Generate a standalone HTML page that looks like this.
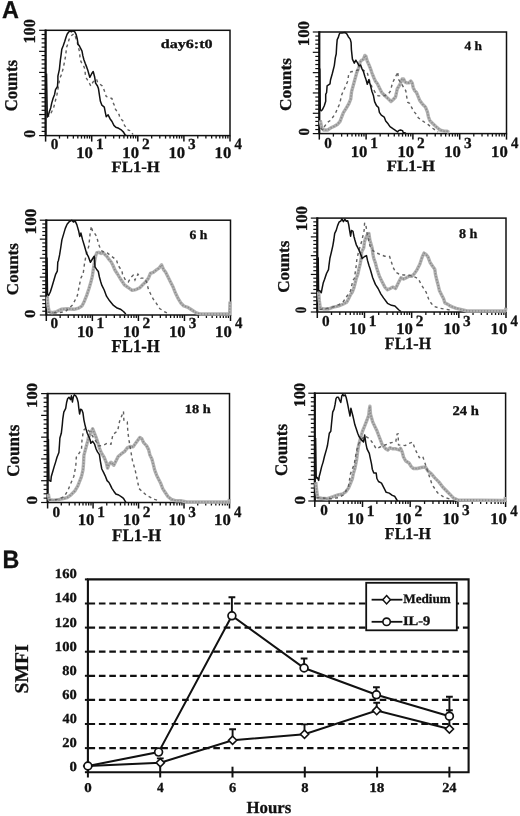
<!DOCTYPE html>
<html><head><meta charset="utf-8"><style>
html,body{margin:0;padding:0;background:#fff;}
svg{display:block;filter:grayscale(1);}
text{text-rendering:geometricPrecision;}
</style></head><body>
<svg width="520" height="816" viewBox="0 0 520 816">
<rect width="520" height="816" fill="#fff"/>
<rect x="45.6" y="30.3" width="184.4" height="105.3" fill="none" stroke="#111" stroke-width="1.5"/>
<line x1="45.6" y1="29.6" x2="45.6" y2="135.6" stroke="#111" stroke-width="2.1"/>
<line x1="39.1" y1="135.6" x2="45.6" y2="135.6" stroke="#111" stroke-width="1.2"/>
<line x1="41.6" y1="131.388" x2="45.6" y2="131.388" stroke="#111" stroke-width="1.2"/>
<line x1="41.6" y1="127.176" x2="45.6" y2="127.176" stroke="#111" stroke-width="1.2"/>
<line x1="41.6" y1="122.964" x2="45.6" y2="122.964" stroke="#111" stroke-width="1.2"/>
<line x1="41.6" y1="118.752" x2="45.6" y2="118.752" stroke="#111" stroke-width="1.2"/>
<line x1="39.1" y1="114.54" x2="45.6" y2="114.54" stroke="#111" stroke-width="1.2"/>
<line x1="41.6" y1="110.328" x2="45.6" y2="110.328" stroke="#111" stroke-width="1.2"/>
<line x1="41.6" y1="106.116" x2="45.6" y2="106.116" stroke="#111" stroke-width="1.2"/>
<line x1="41.6" y1="101.904" x2="45.6" y2="101.904" stroke="#111" stroke-width="1.2"/>
<line x1="41.6" y1="97.692" x2="45.6" y2="97.692" stroke="#111" stroke-width="1.2"/>
<line x1="39.1" y1="93.48" x2="45.6" y2="93.48" stroke="#111" stroke-width="1.2"/>
<line x1="41.6" y1="89.268" x2="45.6" y2="89.268" stroke="#111" stroke-width="1.2"/>
<line x1="41.6" y1="85.056" x2="45.6" y2="85.056" stroke="#111" stroke-width="1.2"/>
<line x1="41.6" y1="80.844" x2="45.6" y2="80.844" stroke="#111" stroke-width="1.2"/>
<line x1="41.6" y1="76.632" x2="45.6" y2="76.632" stroke="#111" stroke-width="1.2"/>
<line x1="39.1" y1="72.42" x2="45.6" y2="72.42" stroke="#111" stroke-width="1.2"/>
<line x1="41.6" y1="68.208" x2="45.6" y2="68.208" stroke="#111" stroke-width="1.2"/>
<line x1="41.6" y1="63.996" x2="45.6" y2="63.996" stroke="#111" stroke-width="1.2"/>
<line x1="41.6" y1="59.784" x2="45.6" y2="59.784" stroke="#111" stroke-width="1.2"/>
<line x1="41.6" y1="55.572" x2="45.6" y2="55.572" stroke="#111" stroke-width="1.2"/>
<line x1="39.1" y1="51.36" x2="45.6" y2="51.36" stroke="#111" stroke-width="1.2"/>
<line x1="41.6" y1="47.148" x2="45.6" y2="47.148" stroke="#111" stroke-width="1.2"/>
<line x1="41.6" y1="42.936" x2="45.6" y2="42.936" stroke="#111" stroke-width="1.2"/>
<line x1="41.6" y1="38.724" x2="45.6" y2="38.724" stroke="#111" stroke-width="1.2"/>
<line x1="41.6" y1="34.512" x2="45.6" y2="34.512" stroke="#111" stroke-width="1.2"/>
<line x1="39.1" y1="30.3" x2="45.6" y2="30.3" stroke="#111" stroke-width="1.2"/>
<line x1="59.477" y1="135.6" x2="59.477" y2="138.6" stroke="#111" stroke-width="1.3"/>
<line x1="67.595" y1="135.6" x2="67.595" y2="138.6" stroke="#111" stroke-width="1.3"/>
<line x1="73.355" y1="135.6" x2="73.355" y2="138.6" stroke="#111" stroke-width="1.3"/>
<line x1="77.823" y1="135.6" x2="77.823" y2="138.6" stroke="#111" stroke-width="1.3"/>
<line x1="81.473" y1="135.6" x2="81.473" y2="138.6" stroke="#111" stroke-width="1.3"/>
<line x1="84.559" y1="135.6" x2="84.559" y2="138.6" stroke="#111" stroke-width="1.3"/>
<line x1="87.232" y1="135.6" x2="87.232" y2="138.6" stroke="#111" stroke-width="1.3"/>
<line x1="89.591" y1="135.6" x2="89.591" y2="138.6" stroke="#111" stroke-width="1.3"/>
<line x1="105.577" y1="135.6" x2="105.577" y2="138.6" stroke="#111" stroke-width="1.3"/>
<line x1="113.695" y1="135.6" x2="113.695" y2="138.6" stroke="#111" stroke-width="1.3"/>
<line x1="119.455" y1="135.6" x2="119.455" y2="138.6" stroke="#111" stroke-width="1.3"/>
<line x1="123.923" y1="135.6" x2="123.923" y2="138.6" stroke="#111" stroke-width="1.3"/>
<line x1="127.573" y1="135.6" x2="127.573" y2="138.6" stroke="#111" stroke-width="1.3"/>
<line x1="130.659" y1="135.6" x2="130.659" y2="138.6" stroke="#111" stroke-width="1.3"/>
<line x1="133.332" y1="135.6" x2="133.332" y2="138.6" stroke="#111" stroke-width="1.3"/>
<line x1="135.691" y1="135.6" x2="135.691" y2="138.6" stroke="#111" stroke-width="1.3"/>
<line x1="151.677" y1="135.6" x2="151.677" y2="138.6" stroke="#111" stroke-width="1.3"/>
<line x1="159.795" y1="135.6" x2="159.795" y2="138.6" stroke="#111" stroke-width="1.3"/>
<line x1="165.555" y1="135.6" x2="165.555" y2="138.6" stroke="#111" stroke-width="1.3"/>
<line x1="170.023" y1="135.6" x2="170.023" y2="138.6" stroke="#111" stroke-width="1.3"/>
<line x1="173.673" y1="135.6" x2="173.673" y2="138.6" stroke="#111" stroke-width="1.3"/>
<line x1="176.759" y1="135.6" x2="176.759" y2="138.6" stroke="#111" stroke-width="1.3"/>
<line x1="179.432" y1="135.6" x2="179.432" y2="138.6" stroke="#111" stroke-width="1.3"/>
<line x1="181.791" y1="135.6" x2="181.791" y2="138.6" stroke="#111" stroke-width="1.3"/>
<line x1="197.777" y1="135.6" x2="197.777" y2="138.6" stroke="#111" stroke-width="1.3"/>
<line x1="205.895" y1="135.6" x2="205.895" y2="138.6" stroke="#111" stroke-width="1.3"/>
<line x1="211.655" y1="135.6" x2="211.655" y2="138.6" stroke="#111" stroke-width="1.3"/>
<line x1="216.123" y1="135.6" x2="216.123" y2="138.6" stroke="#111" stroke-width="1.3"/>
<line x1="219.773" y1="135.6" x2="219.773" y2="138.6" stroke="#111" stroke-width="1.3"/>
<line x1="222.859" y1="135.6" x2="222.859" y2="138.6" stroke="#111" stroke-width="1.3"/>
<line x1="225.532" y1="135.6" x2="225.532" y2="138.6" stroke="#111" stroke-width="1.3"/>
<line x1="227.891" y1="135.6" x2="227.891" y2="138.6" stroke="#111" stroke-width="1.3"/>
<line x1="45.6" y1="135.6" x2="45.6" y2="141.6" stroke="#111" stroke-width="1.5"/>
<line x1="91.7" y1="135.6" x2="91.7" y2="141.6" stroke="#111" stroke-width="1.5"/>
<line x1="137.8" y1="135.6" x2="137.8" y2="141.6" stroke="#111" stroke-width="1.5"/>
<line x1="183.9" y1="135.6" x2="183.9" y2="141.6" stroke="#111" stroke-width="1.5"/>
<line x1="230" y1="135.6" x2="230" y2="141.6" stroke="#111" stroke-width="1.5"/>
<polyline points="46.5,117 49.8,115.6 53.6,107.9 54.6,104 57,94.4 59.9,78 61.3,75.1 63.2,68.4 64.7,60.7 65.6,55.9 66.6,47.2 68,43.4 69,39.5 70.4,37.1 71.9,35.2 73.8,33.8 74.8,35.2 75.7,37.6 77.2,42.4 78.6,48.2 79.6,52 80.1,58.8 81,61.7 82.5,64.5 83.9,66.5 84.9,69.3 85.3,74.2 86.3,78 89.8,84 90.8,86 93,82 96.6,79.2 97.5,82.1 102.3,86 103.3,87.9 105.7,94.6 106.2,96.5 112,98.5 112.4,101.3 114.8,106.2 115.3,109 119.2,114.8 119.7,117.7 123.5,121.5 124.5,125.4 128.3,130.2 130.7,130.7 133,134.5" fill="none" stroke="#606060" stroke-width="1.4" stroke-dasharray="3 3.2"/>
<polyline points="46.5,73.5 47.3,117 48.3,115.6 49.3,111.7 50.7,107.9 51.7,103.1 53.1,98.3 54.6,94.4 55.5,89.6 57.5,86.5 57.9,80 57.9,76.1 59.4,69.3 60.3,60.7 61.1,54.9 61.8,49.2 63.2,45.8 64.7,41.5 66.1,37.1 67.1,34.3 68.5,32.3 70,30.9 71.4,31.8 72.8,30.9 74.8,31.8 76.2,34.7 77.2,38.6 78.1,44.3 79.6,46.3 80.5,48.2 82,51.1 82.9,55.9 83.9,59.7 85.3,63.6 86.8,67.4 87.9,70.6 89.8,77.3 91.8,73.5 93.2,71.5 94.7,77.3 95.6,83.1 97.5,86 98.5,88.8 99.5,95.6 100.4,101.3 101.9,105.2 104.3,107.1 105.2,111.9 106.2,116.7 108.1,114.8 110,118.7 112,121.5 113.9,125.4 115.8,127.3 118.7,128.3 121.6,130.2 123.5,132.1 124.9,134.5 126,135.3" fill="none" stroke="#111" stroke-width="1.5" stroke-linejoin="round"/>
<text transform="matrix(0,-0.978,1,0,35.232,43.616)" style="font-family:'Liberation Serif', serif;font-weight:bold;font-size:16.815px" fill="#111" stroke="#111" stroke-width="0.3">100</text>
<text transform="matrix(0,-0.937,1,0,35.235,137.719)" style="font-family:'Liberation Serif', serif;font-weight:bold;font-size:16.519px" fill="#111" stroke="#111" stroke-width="0.3">0</text>
<text transform="matrix(0,-0.937,1,0,17.42,111.343)" style="font-family:'Liberation Serif', serif;font-weight:bold;font-size:17.985px" fill="#111" stroke="#111" stroke-width="0.3">Counts</text>
<text transform="matrix(1.008,0,0,1,50.84,149.049)" style="font-family:'Liberation Serif', serif;font-weight:bold;font-size:15.111px" fill="#111" stroke="#111" stroke-width="0.3">0</text>
<text transform="matrix(1.034,0,0,1,76.264,158.139)" style="font-family:'Liberation Serif', serif;font-weight:bold;font-size:16.148px" fill="#111" stroke="#111" stroke-width="0.3">10</text>
<text transform="matrix(0.987,0,0,1,95.968,149.3)" style="font-family:'Liberation Serif', serif;font-weight:bold;font-size:15.606px" fill="#111" stroke="#111" stroke-width="0.3">1</text>
<text transform="matrix(1.034,0,0,1,122.364,158.139)" style="font-family:'Liberation Serif', serif;font-weight:bold;font-size:16.148px" fill="#111" stroke="#111" stroke-width="0.3">10</text>
<text transform="matrix(0.988,0,0,1,141.983,149.3)" style="font-family:'Liberation Serif', serif;font-weight:bold;font-size:15.606px" fill="#111" stroke="#111" stroke-width="0.3">2</text>
<text transform="matrix(1.034,0,0,1,168.464,158.139)" style="font-family:'Liberation Serif', serif;font-weight:bold;font-size:16.148px" fill="#111" stroke="#111" stroke-width="0.3">10</text>
<text transform="matrix(0.995,0,0,1,188.088,149.146)" style="font-family:'Liberation Serif', serif;font-weight:bold;font-size:15.373px" fill="#111" stroke="#111" stroke-width="0.3">3</text>
<text transform="matrix(1.034,0,0,1,214.564,158.139)" style="font-family:'Liberation Serif', serif;font-weight:bold;font-size:16.148px" fill="#111" stroke="#111" stroke-width="0.3">10</text>
<text transform="matrix(0.951,0,0,1,234.577,149.3)" style="font-family:'Liberation Serif', serif;font-weight:bold;font-size:15.606px" fill="#111" stroke="#111" stroke-width="0.3">4</text>
<text transform="matrix(1.06,0,0,1,111.549,172.2)" style="font-family:'Liberation Serif', serif;font-weight:bold;font-size:15.758px" fill="#111" stroke="#111" stroke-width="0.3">FL1-H</text>
<text transform="matrix(1.284,0,0,1,160.757,48.407)" style="font-family:'Liberation Serif', serif;font-weight:bold;font-size:12.527px" fill="#111" stroke="#111" stroke-width="0.3">day6:t0</text>
<rect x="319.3" y="32" width="187.2" height="101.6" fill="none" stroke="#111" stroke-width="1.5"/>
<line x1="319.3" y1="31.3" x2="319.3" y2="133.6" stroke="#111" stroke-width="2.1"/>
<line x1="312.8" y1="133.6" x2="319.3" y2="133.6" stroke="#111" stroke-width="1.2"/>
<line x1="315.3" y1="129.536" x2="319.3" y2="129.536" stroke="#111" stroke-width="1.2"/>
<line x1="315.3" y1="125.472" x2="319.3" y2="125.472" stroke="#111" stroke-width="1.2"/>
<line x1="315.3" y1="121.408" x2="319.3" y2="121.408" stroke="#111" stroke-width="1.2"/>
<line x1="315.3" y1="117.344" x2="319.3" y2="117.344" stroke="#111" stroke-width="1.2"/>
<line x1="312.8" y1="113.28" x2="319.3" y2="113.28" stroke="#111" stroke-width="1.2"/>
<line x1="315.3" y1="109.216" x2="319.3" y2="109.216" stroke="#111" stroke-width="1.2"/>
<line x1="315.3" y1="105.152" x2="319.3" y2="105.152" stroke="#111" stroke-width="1.2"/>
<line x1="315.3" y1="101.088" x2="319.3" y2="101.088" stroke="#111" stroke-width="1.2"/>
<line x1="315.3" y1="97.024" x2="319.3" y2="97.024" stroke="#111" stroke-width="1.2"/>
<line x1="312.8" y1="92.96" x2="319.3" y2="92.96" stroke="#111" stroke-width="1.2"/>
<line x1="315.3" y1="88.896" x2="319.3" y2="88.896" stroke="#111" stroke-width="1.2"/>
<line x1="315.3" y1="84.832" x2="319.3" y2="84.832" stroke="#111" stroke-width="1.2"/>
<line x1="315.3" y1="80.768" x2="319.3" y2="80.768" stroke="#111" stroke-width="1.2"/>
<line x1="315.3" y1="76.704" x2="319.3" y2="76.704" stroke="#111" stroke-width="1.2"/>
<line x1="312.8" y1="72.64" x2="319.3" y2="72.64" stroke="#111" stroke-width="1.2"/>
<line x1="315.3" y1="68.576" x2="319.3" y2="68.576" stroke="#111" stroke-width="1.2"/>
<line x1="315.3" y1="64.512" x2="319.3" y2="64.512" stroke="#111" stroke-width="1.2"/>
<line x1="315.3" y1="60.448" x2="319.3" y2="60.448" stroke="#111" stroke-width="1.2"/>
<line x1="315.3" y1="56.384" x2="319.3" y2="56.384" stroke="#111" stroke-width="1.2"/>
<line x1="312.8" y1="52.32" x2="319.3" y2="52.32" stroke="#111" stroke-width="1.2"/>
<line x1="315.3" y1="48.256" x2="319.3" y2="48.256" stroke="#111" stroke-width="1.2"/>
<line x1="315.3" y1="44.192" x2="319.3" y2="44.192" stroke="#111" stroke-width="1.2"/>
<line x1="315.3" y1="40.128" x2="319.3" y2="40.128" stroke="#111" stroke-width="1.2"/>
<line x1="315.3" y1="36.064" x2="319.3" y2="36.064" stroke="#111" stroke-width="1.2"/>
<line x1="312.8" y1="32" x2="319.3" y2="32" stroke="#111" stroke-width="1.2"/>
<line x1="333.388" y1="133.6" x2="333.388" y2="136.6" stroke="#111" stroke-width="1.3"/>
<line x1="341.629" y1="133.6" x2="341.629" y2="136.6" stroke="#111" stroke-width="1.3"/>
<line x1="347.476" y1="133.6" x2="347.476" y2="136.6" stroke="#111" stroke-width="1.3"/>
<line x1="352.012" y1="133.6" x2="352.012" y2="136.6" stroke="#111" stroke-width="1.3"/>
<line x1="355.717" y1="133.6" x2="355.717" y2="136.6" stroke="#111" stroke-width="1.3"/>
<line x1="358.851" y1="133.6" x2="358.851" y2="136.6" stroke="#111" stroke-width="1.3"/>
<line x1="361.565" y1="133.6" x2="361.565" y2="136.6" stroke="#111" stroke-width="1.3"/>
<line x1="363.959" y1="133.6" x2="363.959" y2="136.6" stroke="#111" stroke-width="1.3"/>
<line x1="380.188" y1="133.6" x2="380.188" y2="136.6" stroke="#111" stroke-width="1.3"/>
<line x1="388.429" y1="133.6" x2="388.429" y2="136.6" stroke="#111" stroke-width="1.3"/>
<line x1="394.276" y1="133.6" x2="394.276" y2="136.6" stroke="#111" stroke-width="1.3"/>
<line x1="398.812" y1="133.6" x2="398.812" y2="136.6" stroke="#111" stroke-width="1.3"/>
<line x1="402.517" y1="133.6" x2="402.517" y2="136.6" stroke="#111" stroke-width="1.3"/>
<line x1="405.651" y1="133.6" x2="405.651" y2="136.6" stroke="#111" stroke-width="1.3"/>
<line x1="408.365" y1="133.6" x2="408.365" y2="136.6" stroke="#111" stroke-width="1.3"/>
<line x1="410.759" y1="133.6" x2="410.759" y2="136.6" stroke="#111" stroke-width="1.3"/>
<line x1="426.988" y1="133.6" x2="426.988" y2="136.6" stroke="#111" stroke-width="1.3"/>
<line x1="435.229" y1="133.6" x2="435.229" y2="136.6" stroke="#111" stroke-width="1.3"/>
<line x1="441.076" y1="133.6" x2="441.076" y2="136.6" stroke="#111" stroke-width="1.3"/>
<line x1="445.612" y1="133.6" x2="445.612" y2="136.6" stroke="#111" stroke-width="1.3"/>
<line x1="449.317" y1="133.6" x2="449.317" y2="136.6" stroke="#111" stroke-width="1.3"/>
<line x1="452.451" y1="133.6" x2="452.451" y2="136.6" stroke="#111" stroke-width="1.3"/>
<line x1="455.165" y1="133.6" x2="455.165" y2="136.6" stroke="#111" stroke-width="1.3"/>
<line x1="457.559" y1="133.6" x2="457.559" y2="136.6" stroke="#111" stroke-width="1.3"/>
<line x1="473.788" y1="133.6" x2="473.788" y2="136.6" stroke="#111" stroke-width="1.3"/>
<line x1="482.029" y1="133.6" x2="482.029" y2="136.6" stroke="#111" stroke-width="1.3"/>
<line x1="487.876" y1="133.6" x2="487.876" y2="136.6" stroke="#111" stroke-width="1.3"/>
<line x1="492.412" y1="133.6" x2="492.412" y2="136.6" stroke="#111" stroke-width="1.3"/>
<line x1="496.117" y1="133.6" x2="496.117" y2="136.6" stroke="#111" stroke-width="1.3"/>
<line x1="499.251" y1="133.6" x2="499.251" y2="136.6" stroke="#111" stroke-width="1.3"/>
<line x1="501.965" y1="133.6" x2="501.965" y2="136.6" stroke="#111" stroke-width="1.3"/>
<line x1="504.359" y1="133.6" x2="504.359" y2="136.6" stroke="#111" stroke-width="1.3"/>
<line x1="319.3" y1="133.6" x2="319.3" y2="139.6" stroke="#111" stroke-width="1.5"/>
<line x1="366.1" y1="133.6" x2="366.1" y2="139.6" stroke="#111" stroke-width="1.5"/>
<line x1="412.9" y1="133.6" x2="412.9" y2="139.6" stroke="#111" stroke-width="1.5"/>
<line x1="459.7" y1="133.6" x2="459.7" y2="139.6" stroke="#111" stroke-width="1.5"/>
<line x1="506.5" y1="133.6" x2="506.5" y2="139.6" stroke="#111" stroke-width="1.5"/>
<polyline points="320.3,120.4 321.8,128.1 323.7,130 327.6,130 330.5,128.1 334.3,126.2 337.7,124.2 340.1,121.3 341.5,117.5 343.4,112.7 345.8,108.8 348.7,104 350.7,99.2 351.6,91.5 353.5,84.5 355,79 356.7,72.7 358.7,67.9 360.1,62.1 361.5,60.2 363.5,59.2 364.9,55.4 365.9,56.3 367.3,61.2 368.8,64.5 370.2,67.9 371.9,72.8 374.2,78.5 375.5,81.3 377.3,83.5 379.6,88.2 381.9,92.8 385,95.8 388.5,99 391,101.5 392.5,100.2 395.4,97.3 396.3,93.5 397.3,88.7 399.2,85.8 400.7,82.9 402.1,79 403.6,79 405,81.9 406.9,82.9 408.8,82.9 410.8,81 412.2,82.9 413.2,87.7 414.6,90.6 416.5,92.5 417.8,95.6 419.7,100.4 422.6,104.2 425.5,107.1 427.4,111.9 428.4,116.7 429.8,120.6 431.7,122.5 433.7,124.4 435.6,126.3 438,128.3 440.4,130.2 444.2,131.2 447.1,131.2 449,132.5" fill="none" stroke="#b2b2b2" stroke-width="3.4" stroke-linejoin="round"/>
<polyline points="320.3,120.4 321.8,128.1 323.7,130 327.6,130 330.5,128.1 334.3,126.2 337.7,124.2 340.1,121.3 341.5,117.5 343.4,112.7 345.8,108.8 348.7,104 350.7,99.2 351.6,91.5 353.5,84.5 355,79 356.7,72.7 358.7,67.9 360.1,62.1 361.5,60.2 363.5,59.2 364.9,55.4 365.9,56.3 367.3,61.2 368.8,64.5 370.2,67.9 371.9,72.8 374.2,78.5 375.5,81.3 377.3,83.5 379.6,88.2 381.9,92.8 385,95.8 388.5,99 391,101.5 392.5,100.2 395.4,97.3 396.3,93.5 397.3,88.7 399.2,85.8 400.7,82.9 402.1,79 403.6,79 405,81.9 406.9,82.9 408.8,82.9 410.8,81 412.2,82.9 413.2,87.7 414.6,90.6 416.5,92.5 417.8,95.6 419.7,100.4 422.6,104.2 425.5,107.1 427.4,111.9 428.4,116.7 429.8,120.6 431.7,122.5 433.7,124.4 435.6,126.3 438,128.3 440.4,130.2 444.2,131.2 447.1,131.2 449,132.5" fill="none" stroke="#8a8a8a" stroke-width="1.6" stroke-dasharray="1.3 1.7" stroke-linejoin="round"/>
<polyline points="320.5,128 322.8,130 324.7,126.2 327.6,122.3 330.5,120.4 335.3,113.7 339.1,105 340.1,102.1 341.5,95.4 343,91.5 344.9,87.7 347.8,81 348.7,74 351,71.7 353.5,71.5 358,70 363,70 367.3,72.8 369.2,79.7 372,87 375.8,93.5 378.1,95.8 383,96 388.1,94.3 390.4,91.2 392.5,82.9 396.8,74.2 397.8,71.8 398.3,79 401,83 404,88 405.8,90.8 406.3,94.6 407.7,102.3 409.6,103.3 411.5,107.1 413.5,111 415.9,113.8 418.3,117.7 422.1,120.6 427.9,124.4 432.7,128.3 435.6,130.2 438,132" fill="none" stroke="#606060" stroke-width="1.4" stroke-dasharray="3 3.2"/>
<polyline points="319.8,68.5 320.3,110 321.3,110.8 322.3,109.8 324.2,106 325.7,101.2 325.7,94.4 326.6,92.5 327.1,85.8 330,83.8 330.5,80 332.4,73.3 334.3,65.6 335.3,57.9 336.2,54 336.7,45.4 337.2,39.6 338.2,37.7 339.1,34.8 339.6,33.4 340.6,32.9 342,32.9 344.9,32.4 346.8,33.8 348.3,36.7 350.2,39.1 351.1,42.5 351.4,49.6 352.4,59.2 354.3,63.1 355.8,60.2 357.7,63.1 359.1,66 360.6,65 362,68.8 363.5,71.7 364.9,76.5 365.8,78.9 367.3,84.3 368.8,79.7 370.4,85.1 371.9,91.2 373.5,95.8 374.6,101.7 376.5,105.6 378.5,107.5 379.4,112.3 381.3,115.2 384.2,117.1 385.7,121 388.1,123.8 390,126.7 392.9,128.7 395.8,130.6 397.7,132 398.5,130.6 400.5,130 402.5,130.6 403.2,132.6 406,133.2" fill="none" stroke="#111" stroke-width="1.5" stroke-linejoin="round"/>
<text transform="matrix(0,-1.018,1,0,308.836,46.239)" style="font-family:'Liberation Serif', serif;font-weight:bold;font-size:16.444px" fill="#111" stroke="#111" stroke-width="0.3">100</text>
<text transform="matrix(0,-0.967,1,0,308.847,135.39)" style="font-family:'Liberation Serif', serif;font-weight:bold;font-size:15.259px" fill="#111" stroke="#111" stroke-width="0.3">0</text>
<text transform="matrix(0,-1.045,1,0,291.334,110.966)" style="font-family:'Liberation Serif', serif;font-weight:bold;font-size:16.567px" fill="#111" stroke="#111" stroke-width="0.3">Counts</text>
<text transform="matrix(1.008,0,0,1,324.29,147.649)" style="font-family:'Liberation Serif', serif;font-weight:bold;font-size:15.111px" fill="#111" stroke="#111" stroke-width="0.3">0</text>
<text transform="matrix(1.034,0,0,1,350.664,157.039)" style="font-family:'Liberation Serif', serif;font-weight:bold;font-size:16.148px" fill="#111" stroke="#111" stroke-width="0.3">10</text>
<text transform="matrix(0.987,0,0,1,370.368,148.4)" style="font-family:'Liberation Serif', serif;font-weight:bold;font-size:15.606px" fill="#111" stroke="#111" stroke-width="0.3">1</text>
<text transform="matrix(1.034,0,0,1,397.464,157.039)" style="font-family:'Liberation Serif', serif;font-weight:bold;font-size:16.148px" fill="#111" stroke="#111" stroke-width="0.3">10</text>
<text transform="matrix(0.988,0,0,1,417.083,148.4)" style="font-family:'Liberation Serif', serif;font-weight:bold;font-size:15.606px" fill="#111" stroke="#111" stroke-width="0.3">2</text>
<text transform="matrix(1.034,0,0,1,444.264,157.039)" style="font-family:'Liberation Serif', serif;font-weight:bold;font-size:16.148px" fill="#111" stroke="#111" stroke-width="0.3">10</text>
<text transform="matrix(0.995,0,0,1,463.888,148.246)" style="font-family:'Liberation Serif', serif;font-weight:bold;font-size:15.373px" fill="#111" stroke="#111" stroke-width="0.3">3</text>
<text transform="matrix(1.034,0,0,1,491.064,157.039)" style="font-family:'Liberation Serif', serif;font-weight:bold;font-size:16.148px" fill="#111" stroke="#111" stroke-width="0.3">10</text>
<text transform="matrix(0.951,0,0,1,511.077,148.4)" style="font-family:'Liberation Serif', serif;font-weight:bold;font-size:15.606px" fill="#111" stroke="#111" stroke-width="0.3">4</text>
<text transform="matrix(1.06,0,0,1,386.849,171.2)" style="font-family:'Liberation Serif', serif;font-weight:bold;font-size:15.758px" fill="#111" stroke="#111" stroke-width="0.3">FL1-H</text>
<text transform="matrix(1.071,0,0,1,464.399,50.4)" style="font-family:'Liberation Serif', serif;font-weight:bold;font-size:12.518px" fill="#111" stroke="#111" stroke-width="0.3">4 h</text>
<rect x="46.3" y="220.2" width="184.2" height="94.8" fill="none" stroke="#111" stroke-width="1.5"/>
<line x1="46.3" y1="219.5" x2="46.3" y2="315" stroke="#111" stroke-width="2.1"/>
<line x1="39.8" y1="315" x2="46.3" y2="315" stroke="#111" stroke-width="1.2"/>
<line x1="42.3" y1="311.208" x2="46.3" y2="311.208" stroke="#111" stroke-width="1.2"/>
<line x1="42.3" y1="307.416" x2="46.3" y2="307.416" stroke="#111" stroke-width="1.2"/>
<line x1="42.3" y1="303.624" x2="46.3" y2="303.624" stroke="#111" stroke-width="1.2"/>
<line x1="42.3" y1="299.832" x2="46.3" y2="299.832" stroke="#111" stroke-width="1.2"/>
<line x1="39.8" y1="296.04" x2="46.3" y2="296.04" stroke="#111" stroke-width="1.2"/>
<line x1="42.3" y1="292.248" x2="46.3" y2="292.248" stroke="#111" stroke-width="1.2"/>
<line x1="42.3" y1="288.456" x2="46.3" y2="288.456" stroke="#111" stroke-width="1.2"/>
<line x1="42.3" y1="284.664" x2="46.3" y2="284.664" stroke="#111" stroke-width="1.2"/>
<line x1="42.3" y1="280.872" x2="46.3" y2="280.872" stroke="#111" stroke-width="1.2"/>
<line x1="39.8" y1="277.08" x2="46.3" y2="277.08" stroke="#111" stroke-width="1.2"/>
<line x1="42.3" y1="273.288" x2="46.3" y2="273.288" stroke="#111" stroke-width="1.2"/>
<line x1="42.3" y1="269.496" x2="46.3" y2="269.496" stroke="#111" stroke-width="1.2"/>
<line x1="42.3" y1="265.704" x2="46.3" y2="265.704" stroke="#111" stroke-width="1.2"/>
<line x1="42.3" y1="261.912" x2="46.3" y2="261.912" stroke="#111" stroke-width="1.2"/>
<line x1="39.8" y1="258.12" x2="46.3" y2="258.12" stroke="#111" stroke-width="1.2"/>
<line x1="42.3" y1="254.328" x2="46.3" y2="254.328" stroke="#111" stroke-width="1.2"/>
<line x1="42.3" y1="250.536" x2="46.3" y2="250.536" stroke="#111" stroke-width="1.2"/>
<line x1="42.3" y1="246.744" x2="46.3" y2="246.744" stroke="#111" stroke-width="1.2"/>
<line x1="42.3" y1="242.952" x2="46.3" y2="242.952" stroke="#111" stroke-width="1.2"/>
<line x1="39.8" y1="239.16" x2="46.3" y2="239.16" stroke="#111" stroke-width="1.2"/>
<line x1="42.3" y1="235.368" x2="46.3" y2="235.368" stroke="#111" stroke-width="1.2"/>
<line x1="42.3" y1="231.576" x2="46.3" y2="231.576" stroke="#111" stroke-width="1.2"/>
<line x1="42.3" y1="227.784" x2="46.3" y2="227.784" stroke="#111" stroke-width="1.2"/>
<line x1="42.3" y1="223.992" x2="46.3" y2="223.992" stroke="#111" stroke-width="1.2"/>
<line x1="39.8" y1="220.2" x2="46.3" y2="220.2" stroke="#111" stroke-width="1.2"/>
<line x1="60.162" y1="315" x2="60.162" y2="318" stroke="#111" stroke-width="1.3"/>
<line x1="68.271" y1="315" x2="68.271" y2="318" stroke="#111" stroke-width="1.3"/>
<line x1="74.025" y1="315" x2="74.025" y2="318" stroke="#111" stroke-width="1.3"/>
<line x1="78.488" y1="315" x2="78.488" y2="318" stroke="#111" stroke-width="1.3"/>
<line x1="82.134" y1="315" x2="82.134" y2="318" stroke="#111" stroke-width="1.3"/>
<line x1="85.217" y1="315" x2="85.217" y2="318" stroke="#111" stroke-width="1.3"/>
<line x1="87.887" y1="315" x2="87.887" y2="318" stroke="#111" stroke-width="1.3"/>
<line x1="90.243" y1="315" x2="90.243" y2="318" stroke="#111" stroke-width="1.3"/>
<line x1="106.212" y1="315" x2="106.212" y2="318" stroke="#111" stroke-width="1.3"/>
<line x1="114.321" y1="315" x2="114.321" y2="318" stroke="#111" stroke-width="1.3"/>
<line x1="120.075" y1="315" x2="120.075" y2="318" stroke="#111" stroke-width="1.3"/>
<line x1="124.538" y1="315" x2="124.538" y2="318" stroke="#111" stroke-width="1.3"/>
<line x1="128.184" y1="315" x2="128.184" y2="318" stroke="#111" stroke-width="1.3"/>
<line x1="131.267" y1="315" x2="131.267" y2="318" stroke="#111" stroke-width="1.3"/>
<line x1="133.937" y1="315" x2="133.937" y2="318" stroke="#111" stroke-width="1.3"/>
<line x1="136.293" y1="315" x2="136.293" y2="318" stroke="#111" stroke-width="1.3"/>
<line x1="152.262" y1="315" x2="152.262" y2="318" stroke="#111" stroke-width="1.3"/>
<line x1="160.371" y1="315" x2="160.371" y2="318" stroke="#111" stroke-width="1.3"/>
<line x1="166.125" y1="315" x2="166.125" y2="318" stroke="#111" stroke-width="1.3"/>
<line x1="170.588" y1="315" x2="170.588" y2="318" stroke="#111" stroke-width="1.3"/>
<line x1="174.234" y1="315" x2="174.234" y2="318" stroke="#111" stroke-width="1.3"/>
<line x1="177.317" y1="315" x2="177.317" y2="318" stroke="#111" stroke-width="1.3"/>
<line x1="179.987" y1="315" x2="179.987" y2="318" stroke="#111" stroke-width="1.3"/>
<line x1="182.343" y1="315" x2="182.343" y2="318" stroke="#111" stroke-width="1.3"/>
<line x1="198.312" y1="315" x2="198.312" y2="318" stroke="#111" stroke-width="1.3"/>
<line x1="206.421" y1="315" x2="206.421" y2="318" stroke="#111" stroke-width="1.3"/>
<line x1="212.175" y1="315" x2="212.175" y2="318" stroke="#111" stroke-width="1.3"/>
<line x1="216.638" y1="315" x2="216.638" y2="318" stroke="#111" stroke-width="1.3"/>
<line x1="220.284" y1="315" x2="220.284" y2="318" stroke="#111" stroke-width="1.3"/>
<line x1="223.367" y1="315" x2="223.367" y2="318" stroke="#111" stroke-width="1.3"/>
<line x1="226.037" y1="315" x2="226.037" y2="318" stroke="#111" stroke-width="1.3"/>
<line x1="228.393" y1="315" x2="228.393" y2="318" stroke="#111" stroke-width="1.3"/>
<line x1="46.3" y1="315" x2="46.3" y2="321" stroke="#111" stroke-width="1.5"/>
<line x1="92.35" y1="315" x2="92.35" y2="321" stroke="#111" stroke-width="1.5"/>
<line x1="138.4" y1="315" x2="138.4" y2="321" stroke="#111" stroke-width="1.5"/>
<line x1="184.45" y1="315" x2="184.45" y2="321" stroke="#111" stroke-width="1.5"/>
<line x1="230.5" y1="315" x2="230.5" y2="321" stroke="#111" stroke-width="1.5"/>
<polyline points="47.3,296.6 48,305.8 49.2,311.6 52.1,312.7 56.7,311.6 61.3,309.3 67.1,308.7 74,309.3 78.6,308.1 82.1,305.8 84.4,301.2 86.7,295.4 89,288.5 90.7,282.8 92.4,275.8 93.5,268 94.6,261.5 95.8,255.4 96.9,252.7 98.8,252.3 101.2,253.5 103.1,252.7 105,254.6 107.3,256.9 108.8,259.2 111.2,262 112.8,265 114.9,270 117.5,274 120.2,278.5 124.4,284.8 128.3,287.7 132.1,290.3 136,289.6 139.8,287.7 142.7,284.8 145.6,281.9 148.5,278.1 150.4,273.3 153.3,272.3 157.1,269.4 158.9,268.3 161.6,264.9 163.6,269.6 165.7,272.3 168.4,277.7 170.4,281.7 173.1,287.1 175.8,293.8 178.5,299.2 181.1,303.3 183.8,306 187.9,307.3 191.9,310 195.9,312.7 200,314 229.6,314 230,301.5" fill="none" stroke="#b2b2b2" stroke-width="3.4" stroke-linejoin="round"/>
<polyline points="47.3,296.6 48,305.8 49.2,311.6 52.1,312.7 56.7,311.6 61.3,309.3 67.1,308.7 74,309.3 78.6,308.1 82.1,305.8 84.4,301.2 86.7,295.4 89,288.5 90.7,282.8 92.4,275.8 93.5,268 94.6,261.5 95.8,255.4 96.9,252.7 98.8,252.3 101.2,253.5 103.1,252.7 105,254.6 107.3,256.9 108.8,259.2 111.2,262 112.8,265 114.9,270 117.5,274 120.2,278.5 124.4,284.8 128.3,287.7 132.1,290.3 136,289.6 139.8,287.7 142.7,284.8 145.6,281.9 148.5,278.1 150.4,273.3 153.3,272.3 157.1,269.4 158.9,268.3 161.6,264.9 163.6,269.6 165.7,272.3 168.4,277.7 170.4,281.7 173.1,287.1 175.8,293.8 178.5,299.2 181.1,303.3 183.8,306 187.9,307.3 191.9,310 195.9,312.7 200,314 229.6,314 230,301.5" fill="none" stroke="#8a8a8a" stroke-width="1.6" stroke-dasharray="1.3 1.7" stroke-linejoin="round"/>
<polyline points="47.5,312 50.9,312.7 59,312.7 65.3,311.6 72.8,304.7 77.4,295.4 79.2,286.2 80.9,278.1 83.2,273.5 84.4,264.3 86.1,254.9 88.8,246.2 90.3,232 91.5,226.2 92.6,231.9 94.5,233 96.7,236.5 98.4,243.5 100.1,248.1 101.8,251 104.1,252 107.3,253 111.1,256 116.5,260 118.1,265.4 121.9,270.8 122.5,274.2 125.4,280 128.3,281.9 131.2,277.1 133.1,275.2 135,280 137.9,274.2 140.8,278.1 143.7,278.1 146.5,281.9 148.5,289.6 151.3,295.4 153.3,299.2 156.2,303.1 159.6,308.5 164.2,311.5 168.1,313.5" fill="none" stroke="#606060" stroke-width="1.4" stroke-dasharray="3 3.2"/>
<polyline points="47,257.5 47.5,294.3 48.6,295.4 50.3,292 52.1,286.2 53.8,280.5 55.5,274.7 57.3,271.2 57.8,262 58.4,260.7 59.6,254.9 60.7,248 61.9,239.9 63.6,234.1 65.3,228.4 67.1,224.3 69.4,221.5 71.7,220.3 73.4,222 75.1,220.9 76.9,224.9 78.6,230.7 79.8,236.5 80.9,233 82.6,239.9 84.4,245.7 86.5,253.1 88.5,256.9 90.4,262.3 92.7,258.5 94.2,256.2 94.6,260 95,266.9 96.5,269.2 98.3,271.5 99.4,277 100.8,282 101.9,285.4 104.2,290 106.5,296.2 109.6,300.8 113.5,305.4 116.5,307.7 120.4,309.2 123.5,311.5 125.8,314" fill="none" stroke="#111" stroke-width="1.5" stroke-linejoin="round"/>
<text transform="matrix(0,-1.049,1,0,36.036,234.38)" style="font-family:'Liberation Serif', serif;font-weight:bold;font-size:16.444px" fill="#111" stroke="#111" stroke-width="0.3">100</text>
<text transform="matrix(0,-1.108,1,0,35.247,318.076)" style="font-family:'Liberation Serif', serif;font-weight:bold;font-size:15.259px" fill="#111" stroke="#111" stroke-width="0.3">0</text>
<text transform="matrix(0,-1.029,1,0,17.734,295.153)" style="font-family:'Liberation Serif', serif;font-weight:bold;font-size:16.567px" fill="#111" stroke="#111" stroke-width="0.3">Counts</text>
<text transform="matrix(1.008,0,0,1,50.59,328.249)" style="font-family:'Liberation Serif', serif;font-weight:bold;font-size:15.111px" fill="#111" stroke="#111" stroke-width="0.3">0</text>
<text transform="matrix(1.034,0,0,1,76.914,337.039)" style="font-family:'Liberation Serif', serif;font-weight:bold;font-size:16.148px" fill="#111" stroke="#111" stroke-width="0.3">10</text>
<text transform="matrix(0.987,0,0,1,96.618,328.4)" style="font-family:'Liberation Serif', serif;font-weight:bold;font-size:15.606px" fill="#111" stroke="#111" stroke-width="0.3">1</text>
<text transform="matrix(1.034,0,0,1,122.964,337.039)" style="font-family:'Liberation Serif', serif;font-weight:bold;font-size:16.148px" fill="#111" stroke="#111" stroke-width="0.3">10</text>
<text transform="matrix(0.988,0,0,1,142.583,328.4)" style="font-family:'Liberation Serif', serif;font-weight:bold;font-size:15.606px" fill="#111" stroke="#111" stroke-width="0.3">2</text>
<text transform="matrix(1.034,0,0,1,169.014,337.039)" style="font-family:'Liberation Serif', serif;font-weight:bold;font-size:16.148px" fill="#111" stroke="#111" stroke-width="0.3">10</text>
<text transform="matrix(0.995,0,0,1,188.638,328.246)" style="font-family:'Liberation Serif', serif;font-weight:bold;font-size:15.373px" fill="#111" stroke="#111" stroke-width="0.3">3</text>
<text transform="matrix(1.034,0,0,1,215.064,337.039)" style="font-family:'Liberation Serif', serif;font-weight:bold;font-size:16.148px" fill="#111" stroke="#111" stroke-width="0.3">10</text>
<text transform="matrix(0.951,0,0,1,235.077,328.4)" style="font-family:'Liberation Serif', serif;font-weight:bold;font-size:15.606px" fill="#111" stroke="#111" stroke-width="0.3">4</text>
<text transform="matrix(0.919,0,0,1,111.549,351.8)" style="font-family:'Liberation Serif', serif;font-weight:bold;font-size:18.182px" fill="#111" stroke="#111" stroke-width="0.3">FL1-H</text>
<text transform="matrix(1.067,0,0,1,189.523,239.472)" style="font-family:'Liberation Serif', serif;font-weight:bold;font-size:12.766px" fill="#111" stroke="#111" stroke-width="0.3">6 h</text>
<rect x="317.3" y="218.1" width="188.7" height="93.9" fill="none" stroke="#111" stroke-width="1.5"/>
<line x1="317.3" y1="217.4" x2="317.3" y2="312" stroke="#111" stroke-width="2.1"/>
<line x1="310.8" y1="312" x2="317.3" y2="312" stroke="#111" stroke-width="1.2"/>
<line x1="313.3" y1="308.244" x2="317.3" y2="308.244" stroke="#111" stroke-width="1.2"/>
<line x1="313.3" y1="304.488" x2="317.3" y2="304.488" stroke="#111" stroke-width="1.2"/>
<line x1="313.3" y1="300.732" x2="317.3" y2="300.732" stroke="#111" stroke-width="1.2"/>
<line x1="313.3" y1="296.976" x2="317.3" y2="296.976" stroke="#111" stroke-width="1.2"/>
<line x1="310.8" y1="293.22" x2="317.3" y2="293.22" stroke="#111" stroke-width="1.2"/>
<line x1="313.3" y1="289.464" x2="317.3" y2="289.464" stroke="#111" stroke-width="1.2"/>
<line x1="313.3" y1="285.708" x2="317.3" y2="285.708" stroke="#111" stroke-width="1.2"/>
<line x1="313.3" y1="281.952" x2="317.3" y2="281.952" stroke="#111" stroke-width="1.2"/>
<line x1="313.3" y1="278.196" x2="317.3" y2="278.196" stroke="#111" stroke-width="1.2"/>
<line x1="310.8" y1="274.44" x2="317.3" y2="274.44" stroke="#111" stroke-width="1.2"/>
<line x1="313.3" y1="270.684" x2="317.3" y2="270.684" stroke="#111" stroke-width="1.2"/>
<line x1="313.3" y1="266.928" x2="317.3" y2="266.928" stroke="#111" stroke-width="1.2"/>
<line x1="313.3" y1="263.172" x2="317.3" y2="263.172" stroke="#111" stroke-width="1.2"/>
<line x1="313.3" y1="259.416" x2="317.3" y2="259.416" stroke="#111" stroke-width="1.2"/>
<line x1="310.8" y1="255.66" x2="317.3" y2="255.66" stroke="#111" stroke-width="1.2"/>
<line x1="313.3" y1="251.904" x2="317.3" y2="251.904" stroke="#111" stroke-width="1.2"/>
<line x1="313.3" y1="248.148" x2="317.3" y2="248.148" stroke="#111" stroke-width="1.2"/>
<line x1="313.3" y1="244.392" x2="317.3" y2="244.392" stroke="#111" stroke-width="1.2"/>
<line x1="313.3" y1="240.636" x2="317.3" y2="240.636" stroke="#111" stroke-width="1.2"/>
<line x1="310.8" y1="236.88" x2="317.3" y2="236.88" stroke="#111" stroke-width="1.2"/>
<line x1="313.3" y1="233.124" x2="317.3" y2="233.124" stroke="#111" stroke-width="1.2"/>
<line x1="313.3" y1="229.368" x2="317.3" y2="229.368" stroke="#111" stroke-width="1.2"/>
<line x1="313.3" y1="225.612" x2="317.3" y2="225.612" stroke="#111" stroke-width="1.2"/>
<line x1="313.3" y1="221.856" x2="317.3" y2="221.856" stroke="#111" stroke-width="1.2"/>
<line x1="310.8" y1="218.1" x2="317.3" y2="218.1" stroke="#111" stroke-width="1.2"/>
<line x1="331.501" y1="312" x2="331.501" y2="315" stroke="#111" stroke-width="1.3"/>
<line x1="339.808" y1="312" x2="339.808" y2="315" stroke="#111" stroke-width="1.3"/>
<line x1="345.702" y1="312" x2="345.702" y2="315" stroke="#111" stroke-width="1.3"/>
<line x1="350.274" y1="312" x2="350.274" y2="315" stroke="#111" stroke-width="1.3"/>
<line x1="354.009" y1="312" x2="354.009" y2="315" stroke="#111" stroke-width="1.3"/>
<line x1="357.168" y1="312" x2="357.168" y2="315" stroke="#111" stroke-width="1.3"/>
<line x1="359.903" y1="312" x2="359.903" y2="315" stroke="#111" stroke-width="1.3"/>
<line x1="362.316" y1="312" x2="362.316" y2="315" stroke="#111" stroke-width="1.3"/>
<line x1="378.676" y1="312" x2="378.676" y2="315" stroke="#111" stroke-width="1.3"/>
<line x1="386.983" y1="312" x2="386.983" y2="315" stroke="#111" stroke-width="1.3"/>
<line x1="392.877" y1="312" x2="392.877" y2="315" stroke="#111" stroke-width="1.3"/>
<line x1="397.449" y1="312" x2="397.449" y2="315" stroke="#111" stroke-width="1.3"/>
<line x1="401.184" y1="312" x2="401.184" y2="315" stroke="#111" stroke-width="1.3"/>
<line x1="404.343" y1="312" x2="404.343" y2="315" stroke="#111" stroke-width="1.3"/>
<line x1="407.078" y1="312" x2="407.078" y2="315" stroke="#111" stroke-width="1.3"/>
<line x1="409.491" y1="312" x2="409.491" y2="315" stroke="#111" stroke-width="1.3"/>
<line x1="425.851" y1="312" x2="425.851" y2="315" stroke="#111" stroke-width="1.3"/>
<line x1="434.158" y1="312" x2="434.158" y2="315" stroke="#111" stroke-width="1.3"/>
<line x1="440.052" y1="312" x2="440.052" y2="315" stroke="#111" stroke-width="1.3"/>
<line x1="444.624" y1="312" x2="444.624" y2="315" stroke="#111" stroke-width="1.3"/>
<line x1="448.359" y1="312" x2="448.359" y2="315" stroke="#111" stroke-width="1.3"/>
<line x1="451.518" y1="312" x2="451.518" y2="315" stroke="#111" stroke-width="1.3"/>
<line x1="454.253" y1="312" x2="454.253" y2="315" stroke="#111" stroke-width="1.3"/>
<line x1="456.666" y1="312" x2="456.666" y2="315" stroke="#111" stroke-width="1.3"/>
<line x1="473.026" y1="312" x2="473.026" y2="315" stroke="#111" stroke-width="1.3"/>
<line x1="481.333" y1="312" x2="481.333" y2="315" stroke="#111" stroke-width="1.3"/>
<line x1="487.227" y1="312" x2="487.227" y2="315" stroke="#111" stroke-width="1.3"/>
<line x1="491.799" y1="312" x2="491.799" y2="315" stroke="#111" stroke-width="1.3"/>
<line x1="495.534" y1="312" x2="495.534" y2="315" stroke="#111" stroke-width="1.3"/>
<line x1="498.693" y1="312" x2="498.693" y2="315" stroke="#111" stroke-width="1.3"/>
<line x1="501.428" y1="312" x2="501.428" y2="315" stroke="#111" stroke-width="1.3"/>
<line x1="503.841" y1="312" x2="503.841" y2="315" stroke="#111" stroke-width="1.3"/>
<line x1="317.3" y1="312" x2="317.3" y2="318" stroke="#111" stroke-width="1.5"/>
<line x1="364.475" y1="312" x2="364.475" y2="318" stroke="#111" stroke-width="1.5"/>
<line x1="411.65" y1="312" x2="411.65" y2="318" stroke="#111" stroke-width="1.5"/>
<line x1="458.825" y1="312" x2="458.825" y2="318" stroke="#111" stroke-width="1.5"/>
<line x1="506" y1="312" x2="506" y2="318" stroke="#111" stroke-width="1.5"/>
<polyline points="318.6,291.7 319.3,300.4 320.3,308.1 323.7,309 328.5,309 333.3,307.1 338.1,306.2 342.9,304.2 346.7,302.3 348.7,298.5 350.6,294.6 352.5,291.7 353.9,287.9 355.4,282.1 356.3,278.3 357.8,274.4 358.8,269.6 360.2,263.8 361.2,258 361.7,251.7 363.7,247.9 364.6,241.2 366.1,237.3 367.5,234.4 368.9,233.5 369.9,240.2 371.3,245 372.3,248.8 372.8,253.7 373.8,258.5 375.2,262.3 376.7,268 379.4,276.3 382.1,281.7 384.8,287.1 387.5,289.8 390.2,288.5 392.9,287.1 395.6,288.5 398.3,283.1 401,277.7 403.6,279 406.3,277.7 409,276.3 411.7,276.3 414.4,273.6 417.1,269.6 419.8,264.2 422.2,257 424,253.1 426.1,254.4 428.1,257.1 430.1,262.5 432.8,266.5 434.8,269.2 435.5,274.6 436.8,280 438.2,285.4 439.5,290.8 441.5,294.8 443.6,298.8 444.9,302.9 447.6,304.2 449.6,305.6 452.3,306.9 456.3,308.3 461.7,309.6 467.1,311 505.4,311 505.8,307.8" fill="none" stroke="#b2b2b2" stroke-width="3.4" stroke-linejoin="round"/>
<polyline points="318.6,291.7 319.3,300.4 320.3,308.1 323.7,309 328.5,309 333.3,307.1 338.1,306.2 342.9,304.2 346.7,302.3 348.7,298.5 350.6,294.6 352.5,291.7 353.9,287.9 355.4,282.1 356.3,278.3 357.8,274.4 358.8,269.6 360.2,263.8 361.2,258 361.7,251.7 363.7,247.9 364.6,241.2 366.1,237.3 367.5,234.4 368.9,233.5 369.9,240.2 371.3,245 372.3,248.8 372.8,253.7 373.8,258.5 375.2,262.3 376.7,268 379.4,276.3 382.1,281.7 384.8,287.1 387.5,289.8 390.2,288.5 392.9,287.1 395.6,288.5 398.3,283.1 401,277.7 403.6,279 406.3,277.7 409,276.3 411.7,276.3 414.4,273.6 417.1,269.6 419.8,264.2 422.2,257 424,253.1 426.1,254.4 428.1,257.1 430.1,262.5 432.8,266.5 434.8,269.2 435.5,274.6 436.8,280 438.2,285.4 439.5,290.8 441.5,294.8 443.6,298.8 444.9,302.9 447.6,304.2 449.6,305.6 452.3,306.9 456.3,308.3 461.7,309.6 467.1,311 505.4,311 505.8,307.8" fill="none" stroke="#8a8a8a" stroke-width="1.6" stroke-dasharray="1.3 1.7" stroke-linejoin="round"/>
<polyline points="319.5,309.5 324.6,309 332.3,307.1 338,305 342.9,302.3 346.7,296.5 350.6,290.8 351.1,287.9 353,280.2 354.4,278.3 356.3,265 356.8,260 358.5,252 361.7,241.2 364.1,230.6 364.6,222.9 366,226 367.5,236 370,246 372.5,250 375.2,252.7 378.1,253.5 380.8,254.8 384.8,256.2 389.6,256.5 390.6,259.4 393,267.1 395.6,272.3 399,274 403.6,275 407.7,275 413,276 418.5,279 421.1,284.4 426.1,292.1 429.2,300.6 433.5,306.2 440.2,308.3 444.2,309 450,310" fill="none" stroke="#606060" stroke-width="1.4" stroke-dasharray="3 3.2"/>
<polyline points="318.2,257.3 318.6,290.8 319.8,290.8 321.3,292.7 322.2,287.9 323.2,283.1 324.6,279.2 326.5,273.5 328.5,269.6 328.9,265.8 329.9,258.3 331.3,252.5 332.8,245.8 333.8,240 334.7,233.3 336.2,230.4 337.6,225.6 339,222.2 341,220.8 341.9,218.8 343.4,221.7 344.8,219.3 346.3,221.3 347.7,220.8 348.7,224.6 349.6,230.4 350.6,236.2 351.5,230.4 353,231.3 353.9,236.2 354.9,240 356.3,244.8 357.8,247.7 358.8,249.8 360.8,254.6 362.2,258.5 364.6,256.5 366.5,255.6 367.5,260.4 368.9,265.2 370.2,269 372.7,277.7 375.4,284.4 378.1,288.5 380.8,293.8 383.5,297.9 387.5,303.3 391.5,305.3 394.9,306 396.9,308 398.9,310 401,311.5" fill="none" stroke="#111" stroke-width="1.5" stroke-linejoin="round"/>
<text transform="matrix(0,-1.018,1,0,306.836,231.239)" style="font-family:'Liberation Serif', serif;font-weight:bold;font-size:16.444px" fill="#111" stroke="#111" stroke-width="0.3">100</text>
<text transform="matrix(0,-0.811,1,0,306.341,313.214)" style="font-family:'Liberation Serif', serif;font-weight:bold;font-size:15.852px" fill="#111" stroke="#111" stroke-width="0.3">0</text>
<text transform="matrix(0,-1.031,1,0,289.334,292.854)" style="font-family:'Liberation Serif', serif;font-weight:bold;font-size:16.567px" fill="#111" stroke="#111" stroke-width="0.3">Counts</text>
<text transform="matrix(1.008,0,0,1,321.94,325.649)" style="font-family:'Liberation Serif', serif;font-weight:bold;font-size:15.111px" fill="#111" stroke="#111" stroke-width="0.3">0</text>
<text transform="matrix(1.034,0,0,1,349.039,334.339)" style="font-family:'Liberation Serif', serif;font-weight:bold;font-size:16.148px" fill="#111" stroke="#111" stroke-width="0.3">10</text>
<text transform="matrix(0.987,0,0,1,368.743,325.8)" style="font-family:'Liberation Serif', serif;font-weight:bold;font-size:15.606px" fill="#111" stroke="#111" stroke-width="0.3">1</text>
<text transform="matrix(1.034,0,0,1,396.214,334.339)" style="font-family:'Liberation Serif', serif;font-weight:bold;font-size:16.148px" fill="#111" stroke="#111" stroke-width="0.3">10</text>
<text transform="matrix(0.988,0,0,1,415.833,325.8)" style="font-family:'Liberation Serif', serif;font-weight:bold;font-size:15.606px" fill="#111" stroke="#111" stroke-width="0.3">2</text>
<text transform="matrix(1.034,0,0,1,443.389,334.339)" style="font-family:'Liberation Serif', serif;font-weight:bold;font-size:16.148px" fill="#111" stroke="#111" stroke-width="0.3">10</text>
<text transform="matrix(0.995,0,0,1,463.013,325.646)" style="font-family:'Liberation Serif', serif;font-weight:bold;font-size:15.373px" fill="#111" stroke="#111" stroke-width="0.3">3</text>
<text transform="matrix(1.034,0,0,1,490.564,334.339)" style="font-family:'Liberation Serif', serif;font-weight:bold;font-size:16.148px" fill="#111" stroke="#111" stroke-width="0.3">10</text>
<text transform="matrix(0.951,0,0,1,510.577,325.8)" style="font-family:'Liberation Serif', serif;font-weight:bold;font-size:15.606px" fill="#111" stroke="#111" stroke-width="0.3">4</text>
<text transform="matrix(0.935,0,0,1,384.86,349.2)" style="font-family:'Liberation Serif', serif;font-weight:bold;font-size:17.121px" fill="#111" stroke="#111" stroke-width="0.3">FL1-H</text>
<text transform="matrix(1.047,0,0,1,458.906,238.065)" style="font-family:'Liberation Serif', serif;font-weight:bold;font-size:13.475px" fill="#111" stroke="#111" stroke-width="0.3">8 h</text>
<rect x="47.6" y="393.6" width="181.9" height="108.9" fill="none" stroke="#111" stroke-width="1.5"/>
<line x1="47.6" y1="392.9" x2="47.6" y2="502.5" stroke="#111" stroke-width="2.1"/>
<line x1="41.1" y1="502.5" x2="47.6" y2="502.5" stroke="#111" stroke-width="1.2"/>
<line x1="43.6" y1="498.144" x2="47.6" y2="498.144" stroke="#111" stroke-width="1.2"/>
<line x1="43.6" y1="493.788" x2="47.6" y2="493.788" stroke="#111" stroke-width="1.2"/>
<line x1="43.6" y1="489.432" x2="47.6" y2="489.432" stroke="#111" stroke-width="1.2"/>
<line x1="43.6" y1="485.076" x2="47.6" y2="485.076" stroke="#111" stroke-width="1.2"/>
<line x1="41.1" y1="480.72" x2="47.6" y2="480.72" stroke="#111" stroke-width="1.2"/>
<line x1="43.6" y1="476.364" x2="47.6" y2="476.364" stroke="#111" stroke-width="1.2"/>
<line x1="43.6" y1="472.008" x2="47.6" y2="472.008" stroke="#111" stroke-width="1.2"/>
<line x1="43.6" y1="467.652" x2="47.6" y2="467.652" stroke="#111" stroke-width="1.2"/>
<line x1="43.6" y1="463.296" x2="47.6" y2="463.296" stroke="#111" stroke-width="1.2"/>
<line x1="41.1" y1="458.94" x2="47.6" y2="458.94" stroke="#111" stroke-width="1.2"/>
<line x1="43.6" y1="454.584" x2="47.6" y2="454.584" stroke="#111" stroke-width="1.2"/>
<line x1="43.6" y1="450.228" x2="47.6" y2="450.228" stroke="#111" stroke-width="1.2"/>
<line x1="43.6" y1="445.872" x2="47.6" y2="445.872" stroke="#111" stroke-width="1.2"/>
<line x1="43.6" y1="441.516" x2="47.6" y2="441.516" stroke="#111" stroke-width="1.2"/>
<line x1="41.1" y1="437.16" x2="47.6" y2="437.16" stroke="#111" stroke-width="1.2"/>
<line x1="43.6" y1="432.804" x2="47.6" y2="432.804" stroke="#111" stroke-width="1.2"/>
<line x1="43.6" y1="428.448" x2="47.6" y2="428.448" stroke="#111" stroke-width="1.2"/>
<line x1="43.6" y1="424.092" x2="47.6" y2="424.092" stroke="#111" stroke-width="1.2"/>
<line x1="43.6" y1="419.736" x2="47.6" y2="419.736" stroke="#111" stroke-width="1.2"/>
<line x1="41.1" y1="415.38" x2="47.6" y2="415.38" stroke="#111" stroke-width="1.2"/>
<line x1="43.6" y1="411.024" x2="47.6" y2="411.024" stroke="#111" stroke-width="1.2"/>
<line x1="43.6" y1="406.668" x2="47.6" y2="406.668" stroke="#111" stroke-width="1.2"/>
<line x1="43.6" y1="402.312" x2="47.6" y2="402.312" stroke="#111" stroke-width="1.2"/>
<line x1="43.6" y1="397.956" x2="47.6" y2="397.956" stroke="#111" stroke-width="1.2"/>
<line x1="41.1" y1="393.6" x2="47.6" y2="393.6" stroke="#111" stroke-width="1.2"/>
<line x1="61.289" y1="502.5" x2="61.289" y2="505.5" stroke="#111" stroke-width="1.3"/>
<line x1="69.297" y1="502.5" x2="69.297" y2="505.5" stroke="#111" stroke-width="1.3"/>
<line x1="74.979" y1="502.5" x2="74.979" y2="505.5" stroke="#111" stroke-width="1.3"/>
<line x1="79.386" y1="502.5" x2="79.386" y2="505.5" stroke="#111" stroke-width="1.3"/>
<line x1="82.986" y1="502.5" x2="82.986" y2="505.5" stroke="#111" stroke-width="1.3"/>
<line x1="86.031" y1="502.5" x2="86.031" y2="505.5" stroke="#111" stroke-width="1.3"/>
<line x1="88.668" y1="502.5" x2="88.668" y2="505.5" stroke="#111" stroke-width="1.3"/>
<line x1="90.994" y1="502.5" x2="90.994" y2="505.5" stroke="#111" stroke-width="1.3"/>
<line x1="106.764" y1="502.5" x2="106.764" y2="505.5" stroke="#111" stroke-width="1.3"/>
<line x1="114.772" y1="502.5" x2="114.772" y2="505.5" stroke="#111" stroke-width="1.3"/>
<line x1="120.454" y1="502.5" x2="120.454" y2="505.5" stroke="#111" stroke-width="1.3"/>
<line x1="124.861" y1="502.5" x2="124.861" y2="505.5" stroke="#111" stroke-width="1.3"/>
<line x1="128.461" y1="502.5" x2="128.461" y2="505.5" stroke="#111" stroke-width="1.3"/>
<line x1="131.506" y1="502.5" x2="131.506" y2="505.5" stroke="#111" stroke-width="1.3"/>
<line x1="134.143" y1="502.5" x2="134.143" y2="505.5" stroke="#111" stroke-width="1.3"/>
<line x1="136.469" y1="502.5" x2="136.469" y2="505.5" stroke="#111" stroke-width="1.3"/>
<line x1="152.239" y1="502.5" x2="152.239" y2="505.5" stroke="#111" stroke-width="1.3"/>
<line x1="160.247" y1="502.5" x2="160.247" y2="505.5" stroke="#111" stroke-width="1.3"/>
<line x1="165.929" y1="502.5" x2="165.929" y2="505.5" stroke="#111" stroke-width="1.3"/>
<line x1="170.336" y1="502.5" x2="170.336" y2="505.5" stroke="#111" stroke-width="1.3"/>
<line x1="173.936" y1="502.5" x2="173.936" y2="505.5" stroke="#111" stroke-width="1.3"/>
<line x1="176.981" y1="502.5" x2="176.981" y2="505.5" stroke="#111" stroke-width="1.3"/>
<line x1="179.618" y1="502.5" x2="179.618" y2="505.5" stroke="#111" stroke-width="1.3"/>
<line x1="181.944" y1="502.5" x2="181.944" y2="505.5" stroke="#111" stroke-width="1.3"/>
<line x1="197.714" y1="502.5" x2="197.714" y2="505.5" stroke="#111" stroke-width="1.3"/>
<line x1="205.722" y1="502.5" x2="205.722" y2="505.5" stroke="#111" stroke-width="1.3"/>
<line x1="211.404" y1="502.5" x2="211.404" y2="505.5" stroke="#111" stroke-width="1.3"/>
<line x1="215.811" y1="502.5" x2="215.811" y2="505.5" stroke="#111" stroke-width="1.3"/>
<line x1="219.411" y1="502.5" x2="219.411" y2="505.5" stroke="#111" stroke-width="1.3"/>
<line x1="222.456" y1="502.5" x2="222.456" y2="505.5" stroke="#111" stroke-width="1.3"/>
<line x1="225.093" y1="502.5" x2="225.093" y2="505.5" stroke="#111" stroke-width="1.3"/>
<line x1="227.419" y1="502.5" x2="227.419" y2="505.5" stroke="#111" stroke-width="1.3"/>
<line x1="47.6" y1="502.5" x2="47.6" y2="508.5" stroke="#111" stroke-width="1.5"/>
<line x1="93.075" y1="502.5" x2="93.075" y2="508.5" stroke="#111" stroke-width="1.5"/>
<line x1="138.55" y1="502.5" x2="138.55" y2="508.5" stroke="#111" stroke-width="1.5"/>
<line x1="184.025" y1="502.5" x2="184.025" y2="508.5" stroke="#111" stroke-width="1.5"/>
<line x1="229.5" y1="502.5" x2="229.5" y2="508.5" stroke="#111" stroke-width="1.5"/>
<polyline points="48.3,493.8 49.3,499.6 53.7,500.1 58.5,499.6 63.3,498.7 67.1,497.7 71,494.8 74.8,491 77.7,486.2 79.6,481.3 81.5,476.5 83,469.8 83.5,464 83.9,455.4 85.4,449.6 87.9,440.4 88.3,438 90.8,432.7 92.7,428.8 94.6,433.7 96.5,438.5 98,443.3 99.4,448.1 101.3,452.7 104.2,457.5 106.2,462.3 107.6,468.1 109,464.2 111,462.3 113.8,465.2 115.8,461.3 118.2,456.5 121.5,453.7 124.4,451.7 127.3,447.9 130.2,446.5 133.1,446.9 135.8,442.9 137.8,440.2 139.8,437.5 141.8,438.8 143.8,442.9 146.5,445.6 148.6,449.6 149.9,455 151.9,459 153.3,464.4 154.6,469.8 156.6,475.2 158.6,479.2 160.7,483.3 162.7,488.6 165.4,492.7 168.1,496.7 171.4,499.4 176.1,500.8 181.5,500.8 186.9,502 229.1,502 229.4,499" fill="none" stroke="#b2b2b2" stroke-width="3.4" stroke-linejoin="round"/>
<polyline points="48.3,493.8 49.3,499.6 53.7,500.1 58.5,499.6 63.3,498.7 67.1,497.7 71,494.8 74.8,491 77.7,486.2 79.6,481.3 81.5,476.5 83,469.8 83.5,464 83.9,455.4 85.4,449.6 87.9,440.4 88.3,438 90.8,432.7 92.7,428.8 94.6,433.7 96.5,438.5 98,443.3 99.4,448.1 101.3,452.7 104.2,457.5 106.2,462.3 107.6,468.1 109,464.2 111,462.3 113.8,465.2 115.8,461.3 118.2,456.5 121.5,453.7 124.4,451.7 127.3,447.9 130.2,446.5 133.1,446.9 135.8,442.9 137.8,440.2 139.8,437.5 141.8,438.8 143.8,442.9 146.5,445.6 148.6,449.6 149.9,455 151.9,459 153.3,464.4 154.6,469.8 156.6,475.2 158.6,479.2 160.7,483.3 162.7,488.6 165.4,492.7 168.1,496.7 171.4,499.4 176.1,500.8 181.5,500.8 186.9,502 229.1,502 229.4,499" fill="none" stroke="#8a8a8a" stroke-width="1.6" stroke-dasharray="1.3 1.7" stroke-linejoin="round"/>
<polyline points="48.5,500 56.5,499.6 64.2,496.7 68.1,490 70,485.2 73.8,476.5 75.8,466 76.3,457.3 81.5,449.6 82,440 83.5,430.4 86,428 90,432 95,440 99,446 103.3,445.2 107.1,443.3 111,444.2 112.9,434.6 117.7,430.8 119.6,421.2 123.5,411.5 123.9,420.7 127.3,422.1 127.8,431.7 129,440.2 132.4,460.4 135.1,469.8 137.1,479.2 139.1,488.6 146.5,495.4 154.6,499.4 160,501" fill="none" stroke="#606060" stroke-width="1.4" stroke-dasharray="3 3.2"/>
<polyline points="48.4,439 48.9,480.4 49.3,480.4 50.8,481.3 51.3,476.5 52.7,471.7 54.1,466.9 55.6,462.1 57,457.3 58.9,452.5 59.4,445.8 59.9,438 61.3,433.3 62.3,424.6 62.8,418.8 63.8,412.1 65.7,408.3 66.6,402.5 67.6,398.7 69,397.2 70.5,399.6 71.4,395.8 72.4,402 73.4,396.7 74.3,394.8 75.8,395.8 77.2,398.7 78.2,402.5 78.7,407.3 79.6,414 80.6,409.2 82,410.2 83,413.1 83.9,419.8 84.9,424.6 85.9,428.5 87.3,433.3 88.8,436.5 90.2,440 90.8,443.3 92.7,441.3 94.6,444.2 96.1,449 97.5,451.9 99.4,454.6 100.4,461.3 101.8,469 103.8,472.9 105.2,475.8 107.1,480.6 109,482.5 110.5,485.4 111.9,488.3 113.8,491.2 115.8,494 118.7,495 121.5,496.9 123.5,498.4 125.4,501.7 126.3,502.5" fill="none" stroke="#111" stroke-width="1.5" stroke-linejoin="round"/>
<text transform="matrix(0,-1.092,1,0,36.847,407.933)" style="font-family:'Liberation Serif', serif;font-weight:bold;font-size:15.259px" fill="#111" stroke="#111" stroke-width="0.3">100</text>
<text transform="matrix(0,-1.123,1,0,36.847,504.486)" style="font-family:'Liberation Serif', serif;font-weight:bold;font-size:15.259px" fill="#111" stroke="#111" stroke-width="0.3">0</text>
<text transform="matrix(0,-0.96,1,0,19.322,476.753)" style="font-family:'Liberation Serif', serif;font-weight:bold;font-size:17.761px" fill="#111" stroke="#111" stroke-width="0.3">Counts</text>
<text transform="matrix(1.008,0,0,1,52.59,516.649)" style="font-family:'Liberation Serif', serif;font-weight:bold;font-size:15.111px" fill="#111" stroke="#111" stroke-width="0.3">0</text>
<text transform="matrix(1.034,0,0,1,77.639,525.339)" style="font-family:'Liberation Serif', serif;font-weight:bold;font-size:16.148px" fill="#111" stroke="#111" stroke-width="0.3">10</text>
<text transform="matrix(0.987,0,0,1,97.343,516.8)" style="font-family:'Liberation Serif', serif;font-weight:bold;font-size:15.606px" fill="#111" stroke="#111" stroke-width="0.3">1</text>
<text transform="matrix(1.034,0,0,1,123.114,525.339)" style="font-family:'Liberation Serif', serif;font-weight:bold;font-size:16.148px" fill="#111" stroke="#111" stroke-width="0.3">10</text>
<text transform="matrix(0.988,0,0,1,142.733,516.8)" style="font-family:'Liberation Serif', serif;font-weight:bold;font-size:15.606px" fill="#111" stroke="#111" stroke-width="0.3">2</text>
<text transform="matrix(1.034,0,0,1,168.589,525.339)" style="font-family:'Liberation Serif', serif;font-weight:bold;font-size:16.148px" fill="#111" stroke="#111" stroke-width="0.3">10</text>
<text transform="matrix(0.995,0,0,1,188.213,516.646)" style="font-family:'Liberation Serif', serif;font-weight:bold;font-size:15.373px" fill="#111" stroke="#111" stroke-width="0.3">3</text>
<text transform="matrix(1.034,0,0,1,214.064,525.339)" style="font-family:'Liberation Serif', serif;font-weight:bold;font-size:16.148px" fill="#111" stroke="#111" stroke-width="0.3">10</text>
<text transform="matrix(0.951,0,0,1,234.077,516.8)" style="font-family:'Liberation Serif', serif;font-weight:bold;font-size:15.606px" fill="#111" stroke="#111" stroke-width="0.3">4</text>
<text transform="matrix(0.967,0,0,1,112.045,540.8)" style="font-family:'Liberation Serif', serif;font-weight:bold;font-size:17.576px" fill="#111" stroke="#111" stroke-width="0.3">FL1-H</text>
<text transform="matrix(1.166,0,0,1,184.849,413.277)" style="font-family:'Liberation Serif', serif;font-weight:bold;font-size:12.34px" fill="#111" stroke="#111" stroke-width="0.3">18 h</text>
<rect x="314.8" y="393.2" width="190.8" height="107.8" fill="none" stroke="#111" stroke-width="1.5"/>
<line x1="314.8" y1="392.5" x2="314.8" y2="501" stroke="#111" stroke-width="2.1"/>
<line x1="308.3" y1="501" x2="314.8" y2="501" stroke="#111" stroke-width="1.2"/>
<line x1="310.8" y1="496.688" x2="314.8" y2="496.688" stroke="#111" stroke-width="1.2"/>
<line x1="310.8" y1="492.376" x2="314.8" y2="492.376" stroke="#111" stroke-width="1.2"/>
<line x1="310.8" y1="488.064" x2="314.8" y2="488.064" stroke="#111" stroke-width="1.2"/>
<line x1="310.8" y1="483.752" x2="314.8" y2="483.752" stroke="#111" stroke-width="1.2"/>
<line x1="308.3" y1="479.44" x2="314.8" y2="479.44" stroke="#111" stroke-width="1.2"/>
<line x1="310.8" y1="475.128" x2="314.8" y2="475.128" stroke="#111" stroke-width="1.2"/>
<line x1="310.8" y1="470.816" x2="314.8" y2="470.816" stroke="#111" stroke-width="1.2"/>
<line x1="310.8" y1="466.504" x2="314.8" y2="466.504" stroke="#111" stroke-width="1.2"/>
<line x1="310.8" y1="462.192" x2="314.8" y2="462.192" stroke="#111" stroke-width="1.2"/>
<line x1="308.3" y1="457.88" x2="314.8" y2="457.88" stroke="#111" stroke-width="1.2"/>
<line x1="310.8" y1="453.568" x2="314.8" y2="453.568" stroke="#111" stroke-width="1.2"/>
<line x1="310.8" y1="449.256" x2="314.8" y2="449.256" stroke="#111" stroke-width="1.2"/>
<line x1="310.8" y1="444.944" x2="314.8" y2="444.944" stroke="#111" stroke-width="1.2"/>
<line x1="310.8" y1="440.632" x2="314.8" y2="440.632" stroke="#111" stroke-width="1.2"/>
<line x1="308.3" y1="436.32" x2="314.8" y2="436.32" stroke="#111" stroke-width="1.2"/>
<line x1="310.8" y1="432.008" x2="314.8" y2="432.008" stroke="#111" stroke-width="1.2"/>
<line x1="310.8" y1="427.696" x2="314.8" y2="427.696" stroke="#111" stroke-width="1.2"/>
<line x1="310.8" y1="423.384" x2="314.8" y2="423.384" stroke="#111" stroke-width="1.2"/>
<line x1="310.8" y1="419.072" x2="314.8" y2="419.072" stroke="#111" stroke-width="1.2"/>
<line x1="308.3" y1="414.76" x2="314.8" y2="414.76" stroke="#111" stroke-width="1.2"/>
<line x1="310.8" y1="410.448" x2="314.8" y2="410.448" stroke="#111" stroke-width="1.2"/>
<line x1="310.8" y1="406.136" x2="314.8" y2="406.136" stroke="#111" stroke-width="1.2"/>
<line x1="310.8" y1="401.824" x2="314.8" y2="401.824" stroke="#111" stroke-width="1.2"/>
<line x1="310.8" y1="397.512" x2="314.8" y2="397.512" stroke="#111" stroke-width="1.2"/>
<line x1="308.3" y1="393.2" x2="314.8" y2="393.2" stroke="#111" stroke-width="1.2"/>
<line x1="329.159" y1="501" x2="329.159" y2="504" stroke="#111" stroke-width="1.3"/>
<line x1="337.559" y1="501" x2="337.559" y2="504" stroke="#111" stroke-width="1.3"/>
<line x1="343.518" y1="501" x2="343.518" y2="504" stroke="#111" stroke-width="1.3"/>
<line x1="348.141" y1="501" x2="348.141" y2="504" stroke="#111" stroke-width="1.3"/>
<line x1="351.918" y1="501" x2="351.918" y2="504" stroke="#111" stroke-width="1.3"/>
<line x1="355.111" y1="501" x2="355.111" y2="504" stroke="#111" stroke-width="1.3"/>
<line x1="357.877" y1="501" x2="357.877" y2="504" stroke="#111" stroke-width="1.3"/>
<line x1="360.317" y1="501" x2="360.317" y2="504" stroke="#111" stroke-width="1.3"/>
<line x1="376.859" y1="501" x2="376.859" y2="504" stroke="#111" stroke-width="1.3"/>
<line x1="385.259" y1="501" x2="385.259" y2="504" stroke="#111" stroke-width="1.3"/>
<line x1="391.218" y1="501" x2="391.218" y2="504" stroke="#111" stroke-width="1.3"/>
<line x1="395.841" y1="501" x2="395.841" y2="504" stroke="#111" stroke-width="1.3"/>
<line x1="399.618" y1="501" x2="399.618" y2="504" stroke="#111" stroke-width="1.3"/>
<line x1="402.811" y1="501" x2="402.811" y2="504" stroke="#111" stroke-width="1.3"/>
<line x1="405.577" y1="501" x2="405.577" y2="504" stroke="#111" stroke-width="1.3"/>
<line x1="408.017" y1="501" x2="408.017" y2="504" stroke="#111" stroke-width="1.3"/>
<line x1="424.559" y1="501" x2="424.559" y2="504" stroke="#111" stroke-width="1.3"/>
<line x1="432.959" y1="501" x2="432.959" y2="504" stroke="#111" stroke-width="1.3"/>
<line x1="438.918" y1="501" x2="438.918" y2="504" stroke="#111" stroke-width="1.3"/>
<line x1="443.541" y1="501" x2="443.541" y2="504" stroke="#111" stroke-width="1.3"/>
<line x1="447.318" y1="501" x2="447.318" y2="504" stroke="#111" stroke-width="1.3"/>
<line x1="450.511" y1="501" x2="450.511" y2="504" stroke="#111" stroke-width="1.3"/>
<line x1="453.277" y1="501" x2="453.277" y2="504" stroke="#111" stroke-width="1.3"/>
<line x1="455.717" y1="501" x2="455.717" y2="504" stroke="#111" stroke-width="1.3"/>
<line x1="472.259" y1="501" x2="472.259" y2="504" stroke="#111" stroke-width="1.3"/>
<line x1="480.659" y1="501" x2="480.659" y2="504" stroke="#111" stroke-width="1.3"/>
<line x1="486.618" y1="501" x2="486.618" y2="504" stroke="#111" stroke-width="1.3"/>
<line x1="491.241" y1="501" x2="491.241" y2="504" stroke="#111" stroke-width="1.3"/>
<line x1="495.018" y1="501" x2="495.018" y2="504" stroke="#111" stroke-width="1.3"/>
<line x1="498.211" y1="501" x2="498.211" y2="504" stroke="#111" stroke-width="1.3"/>
<line x1="500.977" y1="501" x2="500.977" y2="504" stroke="#111" stroke-width="1.3"/>
<line x1="503.417" y1="501" x2="503.417" y2="504" stroke="#111" stroke-width="1.3"/>
<line x1="314.8" y1="501" x2="314.8" y2="507" stroke="#111" stroke-width="1.5"/>
<line x1="362.5" y1="501" x2="362.5" y2="507" stroke="#111" stroke-width="1.5"/>
<line x1="410.2" y1="501" x2="410.2" y2="507" stroke="#111" stroke-width="1.5"/>
<line x1="457.9" y1="501" x2="457.9" y2="507" stroke="#111" stroke-width="1.5"/>
<line x1="505.6" y1="501" x2="505.6" y2="507" stroke="#111" stroke-width="1.5"/>
<polyline points="315.8,482.3 316.8,491.9 317.8,497.7 321.6,498.2 327.4,498.7 333.2,496.7 338,494.8 342.8,493.8 345.7,491.9 348.5,488.1 350.5,483.3 352.4,478.5 353.3,473.7 354.8,468.8 355.8,464 356.7,459.2 357.5,452.5 358.5,446 360.1,439.6 362.4,431.5 364.7,425.8 367,420 368.7,415.4 369.3,409.6 369.9,406.2 370.5,414.2 372.8,422.3 375.1,426.9 376.8,430.4 378.5,435 380.3,439.6 382,444.2 383.7,446.5 385.4,448.5 387.8,450 390.1,447.7 392.4,448.8 395.8,448.8 399.3,450 400.5,448.3 402.2,452 403.5,457 405.7,461 409,463 411.2,466.5 413.3,468.5 417.3,468.5 421.3,467.5 425.4,467 428.1,471.1 431.4,473.8 434.8,477.9 438.8,481.9 442.9,487.3 446.9,491.3 451,495.4 453.6,498.1 458,500 505,500.5 505.4,497" fill="none" stroke="#b2b2b2" stroke-width="3.4" stroke-linejoin="round"/>
<polyline points="315.8,482.3 316.8,491.9 317.8,497.7 321.6,498.2 327.4,498.7 333.2,496.7 338,494.8 342.8,493.8 345.7,491.9 348.5,488.1 350.5,483.3 352.4,478.5 353.3,473.7 354.8,468.8 355.8,464 356.7,459.2 357.5,452.5 358.5,446 360.1,439.6 362.4,431.5 364.7,425.8 367,420 368.7,415.4 369.3,409.6 369.9,406.2 370.5,414.2 372.8,422.3 375.1,426.9 376.8,430.4 378.5,435 380.3,439.6 382,444.2 383.7,446.5 385.4,448.5 387.8,450 390.1,447.7 392.4,448.8 395.8,448.8 399.3,450 400.5,448.3 402.2,452 403.5,457 405.7,461 409,463 411.2,466.5 413.3,468.5 417.3,468.5 421.3,467.5 425.4,467 428.1,471.1 431.4,473.8 434.8,477.9 438.8,481.9 442.9,487.3 446.9,491.3 451,495.4 453.6,498.1 458,500 505,500.5 505.4,497" fill="none" stroke="#8a8a8a" stroke-width="1.6" stroke-dasharray="1.3 1.7" stroke-linejoin="round"/>
<polyline points="316.5,497.7 318.7,497.7 331.2,498.7 338,497.7 343.7,494.8 348.5,486.2 350.5,473.7 354.3,464 356.2,452.5 358,445 361,440 364.7,436 369.3,438.4 372.8,443.1 376.2,448.8 380,447 385,445 390,443 395.8,441.5 397.1,434 398.1,433.8 398.5,444.9 405.2,445.6 408.6,443.6 412.6,442.2 415.3,449.6 419.3,457.7 422.7,456.3 425.4,464.4 429.4,476.5 432.1,484.6 437.5,492.7 444.2,497.4 450,499" fill="none" stroke="#606060" stroke-width="1.4" stroke-dasharray="3 3.2"/>
<polyline points="315.6,438.1 316.2,478 317.3,477.5 318.7,480.4 319.2,476.5 320.2,472.7 321.6,466.9 323.1,462.1 324.5,456.3 326.4,449.6 327.4,445.8 328.3,440 329.3,433.3 330.8,431.3 331.7,421.7 332.7,412.1 334.1,409.2 335.1,404.4 336,398.7 337,397.2 338.4,397.2 339.4,399.6 340.8,402.5 341.8,395.8 342.8,394.3 343.7,395.8 345.2,394.8 346.1,397.2 347.1,401.5 348.1,406.3 349,411.2 350,416 350.9,408.3 351.9,412.1 352.9,416 353.8,419.8 354.8,424.6 356.4,429.3 357.7,433.3 359,436.5 361.2,439.6 363.5,441.9 364.7,435 365.8,443.1 367,448.8 369.3,453.4 370,456.9 371.5,463.8 372.3,469.2 373.8,473.1 376.2,473.1 376.9,478.5 378.5,481.5 381.5,483.1 383.8,487.7 386.2,492.3 389.2,493.1 392.3,495.4 394.6,496.2 396.9,500 398,501" fill="none" stroke="#111" stroke-width="1.5" stroke-linejoin="round"/>
<text transform="matrix(0,-0.983,1,0,304.836,407.193)" style="font-family:'Liberation Serif', serif;font-weight:bold;font-size:16.444px" fill="#111" stroke="#111" stroke-width="0.3">100</text>
<text transform="matrix(0,-1.123,1,0,304.847,504.486)" style="font-family:'Liberation Serif', serif;font-weight:bold;font-size:15.259px" fill="#111" stroke="#111" stroke-width="0.3">0</text>
<text transform="matrix(0,-0.96,1,0,287.322,475.953)" style="font-family:'Liberation Serif', serif;font-weight:bold;font-size:17.761px" fill="#111" stroke="#111" stroke-width="0.3">Counts</text>
<text transform="matrix(1.008,0,0,1,320.29,515.349)" style="font-family:'Liberation Serif', serif;font-weight:bold;font-size:15.111px" fill="#111" stroke="#111" stroke-width="0.3">0</text>
<text transform="matrix(1.034,0,0,1,347.064,523.739)" style="font-family:'Liberation Serif', serif;font-weight:bold;font-size:16.148px" fill="#111" stroke="#111" stroke-width="0.3">10</text>
<text transform="matrix(0.987,0,0,1,366.768,515.5)" style="font-family:'Liberation Serif', serif;font-weight:bold;font-size:15.606px" fill="#111" stroke="#111" stroke-width="0.3">1</text>
<text transform="matrix(1.034,0,0,1,394.764,523.739)" style="font-family:'Liberation Serif', serif;font-weight:bold;font-size:16.148px" fill="#111" stroke="#111" stroke-width="0.3">10</text>
<text transform="matrix(0.988,0,0,1,414.383,515.5)" style="font-family:'Liberation Serif', serif;font-weight:bold;font-size:15.606px" fill="#111" stroke="#111" stroke-width="0.3">2</text>
<text transform="matrix(1.034,0,0,1,442.464,523.739)" style="font-family:'Liberation Serif', serif;font-weight:bold;font-size:16.148px" fill="#111" stroke="#111" stroke-width="0.3">10</text>
<text transform="matrix(0.995,0,0,1,462.088,515.346)" style="font-family:'Liberation Serif', serif;font-weight:bold;font-size:15.373px" fill="#111" stroke="#111" stroke-width="0.3">3</text>
<text transform="matrix(1.034,0,0,1,490.164,523.739)" style="font-family:'Liberation Serif', serif;font-weight:bold;font-size:16.148px" fill="#111" stroke="#111" stroke-width="0.3">10</text>
<text transform="matrix(0.951,0,0,1,510.177,515.5)" style="font-family:'Liberation Serif', serif;font-weight:bold;font-size:15.606px" fill="#111" stroke="#111" stroke-width="0.3">4</text>
<text transform="matrix(0.96,0,0,1,384.86,539)" style="font-family:'Liberation Serif', serif;font-weight:bold;font-size:16.667px" fill="#111" stroke="#111" stroke-width="0.3">FL1-H</text>
<text transform="matrix(1.109,0,0,1,452.513,414.5)" style="font-family:'Liberation Serif', serif;font-weight:bold;font-size:13.237px" fill="#111" stroke="#111" stroke-width="0.3">24 h</text>
<line x1="87.9" y1="748.1" x2="468.6" y2="748.1" stroke="#111" stroke-width="2.2" stroke-dasharray="6.6 3.8" stroke-dashoffset="-0.6"/>
<line x1="87.9" y1="724" x2="468.6" y2="724" stroke="#111" stroke-width="2.2" stroke-dasharray="6.6 3.8" stroke-dashoffset="-0.6"/>
<line x1="87.9" y1="699.9" x2="468.6" y2="699.9" stroke="#111" stroke-width="2.2" stroke-dasharray="6.6 3.8" stroke-dashoffset="-0.6"/>
<line x1="87.9" y1="675.8" x2="468.6" y2="675.8" stroke="#111" stroke-width="2.2" stroke-dasharray="6.6 3.8" stroke-dashoffset="-0.6"/>
<line x1="87.9" y1="651.7" x2="468.6" y2="651.7" stroke="#111" stroke-width="2.2" stroke-dasharray="6.6 3.8" stroke-dashoffset="-0.6"/>
<line x1="87.9" y1="627.6" x2="468.6" y2="627.6" stroke="#111" stroke-width="2.2" stroke-dasharray="6.6 3.8" stroke-dashoffset="-0.6"/>
<line x1="87.9" y1="603.5" x2="468.6" y2="603.5" stroke="#111" stroke-width="2.2" stroke-dasharray="6.6 3.8" stroke-dashoffset="-0.6"/>
<path d="M87.9,772.2 V579.4 H468.6 V772.2 H87.9" fill="none" stroke="#111" stroke-width="2.1"/>
<line x1="84.9" y1="772.2" x2="87.9" y2="772.2" stroke="#111" stroke-width="2"/>
<text transform="matrix(1.071,0,0,1,69.41,771.162)" style="font-family:'Liberation Serif', serif;font-weight:bold;font-size:13.778px" fill="#111" stroke="#111" stroke-width="0.3">0</text>
<line x1="84.9" y1="748.1" x2="87.9" y2="748.1" stroke="#111" stroke-width="2"/>
<text transform="matrix(1.057,0,0,1,62.217,747.062)" style="font-family:'Liberation Serif', serif;font-weight:bold;font-size:13.778px" fill="#111" stroke="#111" stroke-width="0.3">20</text>
<line x1="84.9" y1="724" x2="87.9" y2="724" stroke="#111" stroke-width="2"/>
<text transform="matrix(1.029,0,0,1,62.587,722.962)" style="font-family:'Liberation Serif', serif;font-weight:bold;font-size:13.778px" fill="#111" stroke="#111" stroke-width="0.3">40</text>
<line x1="84.9" y1="699.9" x2="87.9" y2="699.9" stroke="#111" stroke-width="2"/>
<text transform="matrix(1.051,0,0,1,62.293,698.862)" style="font-family:'Liberation Serif', serif;font-weight:bold;font-size:13.778px" fill="#111" stroke="#111" stroke-width="0.3">60</text>
<line x1="84.9" y1="675.8" x2="87.9" y2="675.8" stroke="#111" stroke-width="2"/>
<text transform="matrix(1.051,0,0,1,62.293,674.762)" style="font-family:'Liberation Serif', serif;font-weight:bold;font-size:13.778px" fill="#111" stroke="#111" stroke-width="0.3">80</text>
<line x1="84.9" y1="651.7" x2="87.9" y2="651.7" stroke="#111" stroke-width="2"/>
<text transform="matrix(1.062,0,0,1,54.829,650.662)" style="font-family:'Liberation Serif', serif;font-weight:bold;font-size:13.778px" fill="#111" stroke="#111" stroke-width="0.3">100</text>
<line x1="84.9" y1="627.6" x2="87.9" y2="627.6" stroke="#111" stroke-width="2"/>
<text transform="matrix(1.062,0,0,1,54.829,626.562)" style="font-family:'Liberation Serif', serif;font-weight:bold;font-size:13.778px" fill="#111" stroke="#111" stroke-width="0.3">120</text>
<line x1="84.9" y1="603.5" x2="87.9" y2="603.5" stroke="#111" stroke-width="2"/>
<text transform="matrix(1.062,0,0,1,54.829,602.462)" style="font-family:'Liberation Serif', serif;font-weight:bold;font-size:13.778px" fill="#111" stroke="#111" stroke-width="0.3">140</text>
<line x1="84.9" y1="579.4" x2="87.9" y2="579.4" stroke="#111" stroke-width="2"/>
<text transform="matrix(1.062,0,0,1,54.829,578.362)" style="font-family:'Liberation Serif', serif;font-weight:bold;font-size:13.778px" fill="#111" stroke="#111" stroke-width="0.3">160</text>
<line x1="87.9" y1="766.7" x2="87.9" y2="777.5" stroke="#111" stroke-width="2"/>
<text transform="matrix(1.113,0,0,1,84.25,791.865)" style="font-family:'Liberation Serif', serif;font-weight:bold;font-size:13.481px" fill="#111" stroke="#111" stroke-width="0.3">0</text>
<line x1="160.2" y1="766.7" x2="160.2" y2="777.5" stroke="#111" stroke-width="2"/>
<text transform="matrix(0.983,0,0,1,156.947,792)" style="font-family:'Liberation Serif', serif;font-weight:bold;font-size:13.788px" fill="#111" stroke="#111" stroke-width="0.3">4</text>
<line x1="232.5" y1="766.7" x2="232.5" y2="777.5" stroke="#111" stroke-width="2"/>
<text transform="matrix(1.066,0,0,1,228.943,791.864)" style="font-family:'Liberation Serif', serif;font-weight:bold;font-size:13.582px" fill="#111" stroke="#111" stroke-width="0.3">6</text>
<line x1="304.8" y1="766.7" x2="304.8" y2="777.5" stroke="#111" stroke-width="2"/>
<text transform="matrix(1.087,0,0,1,301.237,791.865)" style="font-family:'Liberation Serif', serif;font-weight:bold;font-size:13.481px" fill="#111" stroke="#111" stroke-width="0.3">8</text>
<line x1="377.1" y1="766.7" x2="377.1" y2="777.5" stroke="#111" stroke-width="2"/>
<text transform="matrix(1.131,0,0,1,369.23,791.865)" style="font-family:'Liberation Serif', serif;font-weight:bold;font-size:13.481px" fill="#111" stroke="#111" stroke-width="0.3">18</text>
<line x1="449.4" y1="766.7" x2="449.4" y2="777.5" stroke="#111" stroke-width="2"/>
<text transform="matrix(1.042,0,0,1,442.176,792)" style="font-family:'Liberation Serif', serif;font-weight:bold;font-size:13.788px" fill="#111" stroke="#111" stroke-width="0.3">24</text>
<text transform="matrix(0.987,0,0,1,246.548,813.43)" style="font-family:'Liberation Serif', serif;font-weight:bold;font-size:16.992px" fill="#111" stroke="#111" stroke-width="0.3">Hours</text>
<text transform="matrix(0,-1.006,1,0,28.304,693.482)" style="font-family:'Liberation Serif', serif;font-weight:bold;font-size:19.552px" fill="#111" stroke="#111" stroke-width="0.3">SMFI</text>
<path d="M160.3,762.7 V758.4 M156.9,758.4 H163.7" stroke="#111" stroke-width="1.9" fill="none"/>
<path d="M232.6,740.3 V729.2 M229.2,729.2 H236" stroke="#111" stroke-width="1.9" fill="none"/>
<path d="M304.5,734.2 V724.4 M301.1,724.4 H307.9" stroke="#111" stroke-width="1.9" fill="none"/>
<path d="M376.7,710.6 V702.7 M373.3,702.7 H380.1" stroke="#111" stroke-width="1.9" fill="none"/>
<path d="M449.4,729 V710.2 M446,710.2 H452.8" stroke="#111" stroke-width="1.9" fill="none"/>
<path d="M231.9,615.8 V597.2 M228.5,597.2 H235.3" stroke="#111" stroke-width="1.9" fill="none"/>
<path d="M304.1,668 V658.5 M300.7,658.5 H307.5" stroke="#111" stroke-width="1.9" fill="none"/>
<path d="M376.4,694.8 V687.3 M373,687.3 H379.8" stroke="#111" stroke-width="1.9" fill="none"/>
<path d="M449.4,716.2 V696.8 M446,696.8 H452.8" stroke="#111" stroke-width="1.9" fill="none"/>
<polyline points="87.9,766 160.3,762.7 232.6,740.3 304.5,734.2 376.7,710.6 449.4,729" fill="none" stroke="#111" stroke-width="2"/>
<polyline points="87.9,766 158.6,752.1 231.9,615.8 304.1,668 376.4,694.8 449.4,716.2" fill="none" stroke="#111" stroke-width="2"/>
<path d="M87.9,761.9 L92,766 L87.9,770.1 L83.8,766 Z" fill="#fff" stroke="#111" stroke-width="1.6"/>
<path d="M160.3,758.6 L164.4,762.7 L160.3,766.8 L156.2,762.7 Z" fill="#fff" stroke="#111" stroke-width="1.6"/>
<path d="M232.6,736.2 L236.7,740.3 L232.6,744.4 L228.5,740.3 Z" fill="#fff" stroke="#111" stroke-width="1.6"/>
<path d="M304.5,730.1 L308.6,734.2 L304.5,738.3 L300.4,734.2 Z" fill="#fff" stroke="#111" stroke-width="1.6"/>
<path d="M376.7,706.5 L380.8,710.6 L376.7,714.7 L372.6,710.6 Z" fill="#fff" stroke="#111" stroke-width="1.6"/>
<path d="M449.4,724.9 L453.5,729 L449.4,733.1 L445.3,729 Z" fill="#fff" stroke="#111" stroke-width="1.6"/>
<circle cx="87.9" cy="766" r="3.9" fill="#fff" stroke="#111" stroke-width="1.7"/>
<circle cx="158.6" cy="752.1" r="3.9" fill="#fff" stroke="#111" stroke-width="1.7"/>
<circle cx="231.9" cy="615.8" r="3.9" fill="#fff" stroke="#111" stroke-width="1.7"/>
<circle cx="304.1" cy="668" r="3.9" fill="#fff" stroke="#111" stroke-width="1.7"/>
<circle cx="376.4" cy="694.8" r="3.9" fill="#fff" stroke="#111" stroke-width="1.7"/>
<circle cx="449.4" cy="716.2" r="3.9" fill="#fff" stroke="#111" stroke-width="1.7"/>
<rect x="366.2" y="582.8" width="90.6" height="47.5" fill="#fff" stroke="#111" stroke-width="1.8"/>
<line x1="371.6" y1="599.7" x2="402.4" y2="599.7" stroke="#111" stroke-width="1.8"/>
<path d="M386.6,595.5 L390.4,599.7 L386.6,603.9 L382.8,599.7 Z" fill="#fff" stroke="#111" stroke-width="1.5"/>
<line x1="371.6" y1="621.8" x2="402.4" y2="621.8" stroke="#111" stroke-width="1.8"/>
<circle cx="386.6" cy="621.8" r="3.7" fill="#fff" stroke="#111" stroke-width="1.6"/>
<text transform="matrix(1.01,0,0,1,403.202,603.07)" style="font-family:'Liberation Serif', serif;font-weight:bold;font-size:13.05px" fill="#111" stroke="#111" stroke-width="0.3">Medium</text>
<text transform="matrix(1.109,0,0,1,402.89,624.569)" style="font-family:'Liberation Serif', serif;font-weight:bold;font-size:13.134px" fill="#111" stroke="#111" stroke-width="0.3">IL-9</text>
<text transform="matrix(0.962,0,0,1,2.114,18.4)" style="font-family:'Liberation Sans', sans-serif;font-weight:bold;font-size:24.348px" fill="#111" stroke="#111" stroke-width="0.3">A</text>
<text transform="matrix(0.928,0,0,1,2.387,568.1)" style="font-family:'Liberation Sans', sans-serif;font-weight:bold;font-size:25.072px" fill="#111" stroke="#111" stroke-width="0.3">B</text>
</svg>
</body></html>
